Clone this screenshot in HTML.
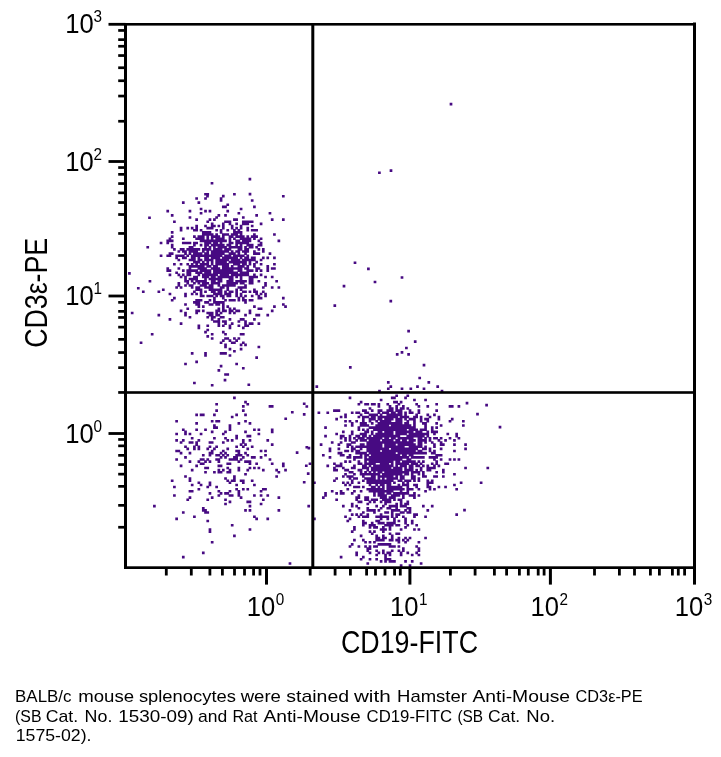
<!DOCTYPE html>
<html><head><meta charset="utf-8"><title>CD3e-PE vs CD19-FITC</title>
<style>
html,body{margin:0;padding:0;background:#fff;overflow:hidden;}
svg{display:block;}
text{font-family:"Liberation Sans",sans-serif;fill:#000;}
</style></head><body>
<svg width="721" height="757" viewBox="0 0 721 757">
<rect width="721" height="757" fill="#fff"/>
<path fill="#470a82" d="M130.82 311.73h2.7v2.6h-2.7zM139.71 341.44h2.7v2.6h-2.7zM141.93 290.51h2.7v2.6h-2.7zM146.38 245.94h2.7v2.6h-2.7zM148.60 279.89h2.7v2.6h-2.7zM150.82 332.95h2.7v2.6h-2.7zM153.04 504.85h2.7v2.6h-2.7zM157.49 313.85h2.7v2.6h-2.7zM157.49 290.51h2.7v2.6h-2.7zM159.71 254.43h2.7v2.6h-2.7zM159.71 241.69h2.7v2.6h-2.7zM161.94 288.38h2.7v2.6h-2.7zM166.38 269.28h2.7v2.6h-2.7zM166.38 267.16h2.7v2.6h-2.7zM166.38 254.43h2.7v2.6h-2.7zM166.38 241.69h2.7v2.6h-2.7zM166.38 239.57h2.7v2.6h-2.7zM166.38 209.86h2.7v2.6h-2.7zM168.60 318.09h2.7v2.6h-2.7zM168.60 292.63h2.7v2.6h-2.7zM168.60 273.53h2.7v2.6h-2.7zM168.60 269.28h2.7v2.6h-2.7zM168.60 254.43h2.7v2.6h-2.7zM168.60 252.30h2.7v2.6h-2.7zM168.60 239.57h2.7v2.6h-2.7zM168.60 237.45h2.7v2.6h-2.7zM170.83 479.39h2.7v2.6h-2.7zM170.83 298.99h2.7v2.6h-2.7zM170.83 252.30h2.7v2.6h-2.7zM170.83 245.94h2.7v2.6h-2.7zM170.83 243.82h2.7v2.6h-2.7zM170.83 239.57h2.7v2.6h-2.7zM170.83 235.33h2.7v2.6h-2.7zM170.83 231.08h2.7v2.6h-2.7zM170.83 214.10h2.7v2.6h-2.7zM173.05 494.24h2.7v2.6h-2.7zM173.05 485.75h2.7v2.6h-2.7zM173.05 296.87h2.7v2.6h-2.7zM173.05 262.92h2.7v2.6h-2.7zM173.05 248.06h2.7v2.6h-2.7zM173.05 220.47h2.7v2.6h-2.7zM175.27 517.59h2.7v2.6h-2.7zM175.27 458.16h2.7v2.6h-2.7zM175.27 449.68h2.7v2.6h-2.7zM175.27 439.06h2.7v2.6h-2.7zM175.27 432.70h2.7v2.6h-2.7zM175.27 419.96h2.7v2.6h-2.7zM175.27 286.26h2.7v2.6h-2.7zM175.27 271.41h2.7v2.6h-2.7zM175.27 256.55h2.7v2.6h-2.7zM175.27 254.43h2.7v2.6h-2.7zM177.49 449.68h2.7v2.6h-2.7zM177.49 284.14h2.7v2.6h-2.7zM177.49 282.02h2.7v2.6h-2.7zM177.49 273.53h2.7v2.6h-2.7zM177.49 267.16h2.7v2.6h-2.7zM177.49 258.67h2.7v2.6h-2.7zM177.49 254.43h2.7v2.6h-2.7zM177.49 250.18h2.7v2.6h-2.7zM179.72 464.53h2.7v2.6h-2.7zM179.72 451.80h2.7v2.6h-2.7zM179.72 441.19h2.7v2.6h-2.7zM179.72 322.34h2.7v2.6h-2.7zM179.72 309.61h2.7v2.6h-2.7zM179.72 286.26h2.7v2.6h-2.7zM179.72 275.65h2.7v2.6h-2.7zM179.72 262.92h2.7v2.6h-2.7zM179.72 254.43h2.7v2.6h-2.7zM179.72 248.06h2.7v2.6h-2.7zM179.72 228.96h2.7v2.6h-2.7zM179.72 226.84h2.7v2.6h-2.7zM181.94 555.79h2.7v2.6h-2.7zM181.94 511.22h2.7v2.6h-2.7zM181.94 439.06h2.7v2.6h-2.7zM181.94 428.45h2.7v2.6h-2.7zM181.94 273.53h2.7v2.6h-2.7zM181.94 269.28h2.7v2.6h-2.7zM181.94 256.55h2.7v2.6h-2.7zM181.94 254.43h2.7v2.6h-2.7zM181.94 250.18h2.7v2.6h-2.7zM181.94 248.06h2.7v2.6h-2.7zM181.94 241.69h2.7v2.6h-2.7zM181.94 237.45h2.7v2.6h-2.7zM181.94 201.37h2.7v2.6h-2.7zM184.16 475.14h2.7v2.6h-2.7zM184.16 456.04h2.7v2.6h-2.7zM184.16 445.43h2.7v2.6h-2.7zM184.16 432.70h2.7v2.6h-2.7zM184.16 430.57h2.7v2.6h-2.7zM184.16 362.66h2.7v2.6h-2.7zM184.16 313.85h2.7v2.6h-2.7zM184.16 311.73h2.7v2.6h-2.7zM184.16 303.24h2.7v2.6h-2.7zM184.16 294.75h2.7v2.6h-2.7zM184.16 292.63h2.7v2.6h-2.7zM184.16 284.14h2.7v2.6h-2.7zM184.16 279.89h2.7v2.6h-2.7zM184.16 277.77h2.7v2.6h-2.7zM184.16 275.65h2.7v2.6h-2.7zM184.16 256.55h2.7v2.6h-2.7zM184.16 252.30h2.7v2.6h-2.7zM184.16 250.18h2.7v2.6h-2.7zM184.16 241.69h2.7v2.6h-2.7zM186.38 498.49h2.7v2.6h-2.7zM186.38 447.55h2.7v2.6h-2.7zM186.38 307.48h2.7v2.6h-2.7zM186.38 282.02h2.7v2.6h-2.7zM186.38 279.89h2.7v2.6h-2.7zM186.38 273.53h2.7v2.6h-2.7zM186.38 271.41h2.7v2.6h-2.7zM186.38 269.28h2.7v2.6h-2.7zM186.38 262.92h2.7v2.6h-2.7zM186.38 254.43h2.7v2.6h-2.7zM186.38 248.06h2.7v2.6h-2.7zM186.38 241.69h2.7v2.6h-2.7zM186.38 226.84h2.7v2.6h-2.7zM188.61 496.37h2.7v2.6h-2.7zM188.61 490.00h2.7v2.6h-2.7zM188.61 479.39h2.7v2.6h-2.7zM188.61 477.26h2.7v2.6h-2.7zM188.61 460.29h2.7v2.6h-2.7zM188.61 451.80h2.7v2.6h-2.7zM188.61 441.19h2.7v2.6h-2.7zM188.61 432.70h2.7v2.6h-2.7zM188.61 315.97h2.7v2.6h-2.7zM188.61 284.14h2.7v2.6h-2.7zM188.61 277.77h2.7v2.6h-2.7zM188.61 273.53h2.7v2.6h-2.7zM188.61 271.41h2.7v2.6h-2.7zM188.61 269.28h2.7v2.6h-2.7zM188.61 267.16h2.7v2.6h-2.7zM188.61 265.04h2.7v2.6h-2.7zM188.61 258.67h2.7v2.6h-2.7zM188.61 252.30h2.7v2.6h-2.7zM188.61 250.18h2.7v2.6h-2.7zM188.61 248.06h2.7v2.6h-2.7zM188.61 245.94h2.7v2.6h-2.7zM188.61 241.69h2.7v2.6h-2.7zM188.61 216.23h2.7v2.6h-2.7zM188.61 209.86h2.7v2.6h-2.7zM190.83 490.00h2.7v2.6h-2.7zM190.83 483.63h2.7v2.6h-2.7zM190.83 468.78h2.7v2.6h-2.7zM190.83 441.19h2.7v2.6h-2.7zM190.83 436.94h2.7v2.6h-2.7zM190.83 352.05h2.7v2.6h-2.7zM190.83 292.63h2.7v2.6h-2.7zM190.83 286.26h2.7v2.6h-2.7zM190.83 284.14h2.7v2.6h-2.7zM190.83 279.89h2.7v2.6h-2.7zM190.83 277.77h2.7v2.6h-2.7zM190.83 269.28h2.7v2.6h-2.7zM190.83 265.04h2.7v2.6h-2.7zM190.83 262.92h2.7v2.6h-2.7zM190.83 258.67h2.7v2.6h-2.7zM190.83 256.55h2.7v2.6h-2.7zM190.83 254.43h2.7v2.6h-2.7zM190.83 250.18h2.7v2.6h-2.7zM190.83 248.06h2.7v2.6h-2.7zM190.83 245.94h2.7v2.6h-2.7zM190.83 226.84h2.7v2.6h-2.7zM193.05 515.47h2.7v2.6h-2.7zM193.05 447.55h2.7v2.6h-2.7zM193.05 445.43h2.7v2.6h-2.7zM193.05 381.76h2.7v2.6h-2.7zM193.05 301.12h2.7v2.6h-2.7zM193.05 290.51h2.7v2.6h-2.7zM193.05 282.02h2.7v2.6h-2.7zM193.05 277.77h2.7v2.6h-2.7zM193.05 275.65h2.7v2.6h-2.7zM193.05 269.28h2.7v2.6h-2.7zM193.05 265.04h2.7v2.6h-2.7zM193.05 260.79h2.7v2.6h-2.7zM193.05 258.67h2.7v2.6h-2.7zM193.05 256.55h2.7v2.6h-2.7zM193.05 254.43h2.7v2.6h-2.7zM193.05 252.30h2.7v2.6h-2.7zM193.05 250.18h2.7v2.6h-2.7zM193.05 248.06h2.7v2.6h-2.7zM193.05 243.82h2.7v2.6h-2.7zM193.05 241.69h2.7v2.6h-2.7zM193.05 235.33h2.7v2.6h-2.7zM193.05 228.96h2.7v2.6h-2.7zM195.28 464.53h2.7v2.6h-2.7zM195.28 443.31h2.7v2.6h-2.7zM195.28 441.19h2.7v2.6h-2.7zM195.28 428.45h2.7v2.6h-2.7zM195.28 422.09h2.7v2.6h-2.7zM195.28 413.60h2.7v2.6h-2.7zM195.28 360.54h2.7v2.6h-2.7zM195.28 311.73h2.7v2.6h-2.7zM195.28 309.61h2.7v2.6h-2.7zM195.28 303.24h2.7v2.6h-2.7zM195.28 301.12h2.7v2.6h-2.7zM195.28 298.99h2.7v2.6h-2.7zM195.28 292.63h2.7v2.6h-2.7zM195.28 288.38h2.7v2.6h-2.7zM195.28 286.26h2.7v2.6h-2.7zM195.28 279.89h2.7v2.6h-2.7zM195.28 277.77h2.7v2.6h-2.7zM195.28 275.65h2.7v2.6h-2.7zM195.28 271.41h2.7v2.6h-2.7zM195.28 269.28h2.7v2.6h-2.7zM195.28 265.04h2.7v2.6h-2.7zM195.28 262.92h2.7v2.6h-2.7zM195.28 260.79h2.7v2.6h-2.7zM195.28 254.43h2.7v2.6h-2.7zM195.28 252.30h2.7v2.6h-2.7zM195.28 250.18h2.7v2.6h-2.7zM195.28 248.06h2.7v2.6h-2.7zM195.28 241.69h2.7v2.6h-2.7zM195.28 237.45h2.7v2.6h-2.7zM195.28 228.96h2.7v2.6h-2.7zM195.28 226.84h2.7v2.6h-2.7zM195.28 224.72h2.7v2.6h-2.7zM195.28 218.35h2.7v2.6h-2.7zM195.28 197.13h2.7v2.6h-2.7zM197.50 487.88h2.7v2.6h-2.7zM197.50 481.51h2.7v2.6h-2.7zM197.50 460.29h2.7v2.6h-2.7zM197.50 447.55h2.7v2.6h-2.7zM197.50 445.43h2.7v2.6h-2.7zM197.50 439.06h2.7v2.6h-2.7zM197.50 326.58h2.7v2.6h-2.7zM197.50 324.46h2.7v2.6h-2.7zM197.50 309.61h2.7v2.6h-2.7zM197.50 305.36h2.7v2.6h-2.7zM197.50 303.24h2.7v2.6h-2.7zM197.50 301.12h2.7v2.6h-2.7zM197.50 298.99h2.7v2.6h-2.7zM197.50 288.38h2.7v2.6h-2.7zM197.50 286.26h2.7v2.6h-2.7zM197.50 282.02h2.7v2.6h-2.7zM197.50 279.89h2.7v2.6h-2.7zM197.50 273.53h2.7v2.6h-2.7zM197.50 271.41h2.7v2.6h-2.7zM197.50 267.16h2.7v2.6h-2.7zM197.50 265.04h2.7v2.6h-2.7zM197.50 260.79h2.7v2.6h-2.7zM197.50 258.67h2.7v2.6h-2.7zM197.50 256.55h2.7v2.6h-2.7zM197.50 254.43h2.7v2.6h-2.7zM197.50 252.30h2.7v2.6h-2.7zM197.50 248.06h2.7v2.6h-2.7zM197.50 237.45h2.7v2.6h-2.7zM197.50 235.33h2.7v2.6h-2.7zM197.50 201.37h2.7v2.6h-2.7zM199.72 483.63h2.7v2.6h-2.7zM199.72 462.41h2.7v2.6h-2.7zM199.72 458.16h2.7v2.6h-2.7zM199.72 432.70h2.7v2.6h-2.7zM199.72 413.60h2.7v2.6h-2.7zM199.72 298.99h2.7v2.6h-2.7zM199.72 294.75h2.7v2.6h-2.7zM199.72 292.63h2.7v2.6h-2.7zM199.72 290.51h2.7v2.6h-2.7zM199.72 288.38h2.7v2.6h-2.7zM199.72 284.14h2.7v2.6h-2.7zM199.72 279.89h2.7v2.6h-2.7zM199.72 271.41h2.7v2.6h-2.7zM199.72 269.28h2.7v2.6h-2.7zM199.72 267.16h2.7v2.6h-2.7zM199.72 265.04h2.7v2.6h-2.7zM199.72 262.92h2.7v2.6h-2.7zM199.72 258.67h2.7v2.6h-2.7zM199.72 254.43h2.7v2.6h-2.7zM199.72 252.30h2.7v2.6h-2.7zM199.72 243.82h2.7v2.6h-2.7zM199.72 239.57h2.7v2.6h-2.7zM199.72 237.45h2.7v2.6h-2.7zM199.72 235.33h2.7v2.6h-2.7zM199.72 228.96h2.7v2.6h-2.7zM199.72 211.98h2.7v2.6h-2.7zM199.72 207.74h2.7v2.6h-2.7zM201.94 551.54h2.7v2.6h-2.7zM201.94 509.10h2.7v2.6h-2.7zM201.94 506.98h2.7v2.6h-2.7zM201.94 462.41h2.7v2.6h-2.7zM201.94 458.16h2.7v2.6h-2.7zM201.94 453.92h2.7v2.6h-2.7zM201.94 413.60h2.7v2.6h-2.7zM201.94 309.61h2.7v2.6h-2.7zM201.94 305.36h2.7v2.6h-2.7zM201.94 294.75h2.7v2.6h-2.7zM201.94 284.14h2.7v2.6h-2.7zM201.94 282.02h2.7v2.6h-2.7zM201.94 279.89h2.7v2.6h-2.7zM201.94 275.65h2.7v2.6h-2.7zM201.94 273.53h2.7v2.6h-2.7zM201.94 269.28h2.7v2.6h-2.7zM201.94 267.16h2.7v2.6h-2.7zM201.94 265.04h2.7v2.6h-2.7zM201.94 262.92h2.7v2.6h-2.7zM201.94 260.79h2.7v2.6h-2.7zM201.94 254.43h2.7v2.6h-2.7zM201.94 250.18h2.7v2.6h-2.7zM201.94 248.06h2.7v2.6h-2.7zM201.94 239.57h2.7v2.6h-2.7zM201.94 237.45h2.7v2.6h-2.7zM201.94 235.33h2.7v2.6h-2.7zM201.94 233.20h2.7v2.6h-2.7zM201.94 231.08h2.7v2.6h-2.7zM204.17 511.22h2.7v2.6h-2.7zM204.17 509.10h2.7v2.6h-2.7zM204.17 470.90h2.7v2.6h-2.7zM204.17 466.65h2.7v2.6h-2.7zM204.17 460.29h2.7v2.6h-2.7zM204.17 428.45h2.7v2.6h-2.7zM204.17 354.17h2.7v2.6h-2.7zM204.17 352.05h2.7v2.6h-2.7zM204.17 330.83h2.7v2.6h-2.7zM204.17 301.12h2.7v2.6h-2.7zM204.17 290.51h2.7v2.6h-2.7zM204.17 286.26h2.7v2.6h-2.7zM204.17 284.14h2.7v2.6h-2.7zM204.17 282.02h2.7v2.6h-2.7zM204.17 279.89h2.7v2.6h-2.7zM204.17 277.77h2.7v2.6h-2.7zM204.17 275.65h2.7v2.6h-2.7zM204.17 273.53h2.7v2.6h-2.7zM204.17 271.41h2.7v2.6h-2.7zM204.17 269.28h2.7v2.6h-2.7zM204.17 267.16h2.7v2.6h-2.7zM204.17 262.92h2.7v2.6h-2.7zM204.17 258.67h2.7v2.6h-2.7zM204.17 256.55h2.7v2.6h-2.7zM204.17 254.43h2.7v2.6h-2.7zM204.17 252.30h2.7v2.6h-2.7zM204.17 248.06h2.7v2.6h-2.7zM204.17 245.94h2.7v2.6h-2.7zM204.17 243.82h2.7v2.6h-2.7zM204.17 241.69h2.7v2.6h-2.7zM204.17 239.57h2.7v2.6h-2.7zM204.17 233.20h2.7v2.6h-2.7zM204.17 231.08h2.7v2.6h-2.7zM204.17 224.72h2.7v2.6h-2.7zM204.17 209.86h2.7v2.6h-2.7zM204.17 197.13h2.7v2.6h-2.7zM204.17 192.88h2.7v2.6h-2.7zM206.39 519.71h2.7v2.6h-2.7zM206.39 511.22h2.7v2.6h-2.7zM206.39 498.49h2.7v2.6h-2.7zM206.39 485.75h2.7v2.6h-2.7zM206.39 466.65h2.7v2.6h-2.7zM206.39 458.16h2.7v2.6h-2.7zM206.39 447.55h2.7v2.6h-2.7zM206.39 335.07h2.7v2.6h-2.7zM206.39 328.71h2.7v2.6h-2.7zM206.39 324.46h2.7v2.6h-2.7zM206.39 315.97h2.7v2.6h-2.7zM206.39 311.73h2.7v2.6h-2.7zM206.39 301.12h2.7v2.6h-2.7zM206.39 294.75h2.7v2.6h-2.7zM206.39 286.26h2.7v2.6h-2.7zM206.39 282.02h2.7v2.6h-2.7zM206.39 275.65h2.7v2.6h-2.7zM206.39 273.53h2.7v2.6h-2.7zM206.39 271.41h2.7v2.6h-2.7zM206.39 269.28h2.7v2.6h-2.7zM206.39 265.04h2.7v2.6h-2.7zM206.39 262.92h2.7v2.6h-2.7zM206.39 260.79h2.7v2.6h-2.7zM206.39 258.67h2.7v2.6h-2.7zM206.39 256.55h2.7v2.6h-2.7zM206.39 254.43h2.7v2.6h-2.7zM206.39 252.30h2.7v2.6h-2.7zM206.39 250.18h2.7v2.6h-2.7zM206.39 248.06h2.7v2.6h-2.7zM206.39 243.82h2.7v2.6h-2.7zM206.39 241.69h2.7v2.6h-2.7zM206.39 239.57h2.7v2.6h-2.7zM206.39 237.45h2.7v2.6h-2.7zM206.39 235.33h2.7v2.6h-2.7zM206.39 233.20h2.7v2.6h-2.7zM206.39 231.08h2.7v2.6h-2.7zM206.39 226.84h2.7v2.6h-2.7zM206.39 220.47h2.7v2.6h-2.7zM206.39 192.88h2.7v2.6h-2.7zM208.61 530.32h2.7v2.6h-2.7zM208.61 528.20h2.7v2.6h-2.7zM208.61 492.12h2.7v2.6h-2.7zM208.61 483.63h2.7v2.6h-2.7zM208.61 481.51h2.7v2.6h-2.7zM208.61 460.29h2.7v2.6h-2.7zM208.61 453.92h2.7v2.6h-2.7zM208.61 451.80h2.7v2.6h-2.7zM208.61 445.43h2.7v2.6h-2.7zM208.61 441.19h2.7v2.6h-2.7zM208.61 313.85h2.7v2.6h-2.7zM208.61 311.73h2.7v2.6h-2.7zM208.61 303.24h2.7v2.6h-2.7zM208.61 298.99h2.7v2.6h-2.7zM208.61 294.75h2.7v2.6h-2.7zM208.61 288.38h2.7v2.6h-2.7zM208.61 286.26h2.7v2.6h-2.7zM208.61 284.14h2.7v2.6h-2.7zM208.61 277.77h2.7v2.6h-2.7zM208.61 273.53h2.7v2.6h-2.7zM208.61 271.41h2.7v2.6h-2.7zM208.61 269.28h2.7v2.6h-2.7zM208.61 265.04h2.7v2.6h-2.7zM208.61 258.67h2.7v2.6h-2.7zM208.61 254.43h2.7v2.6h-2.7zM208.61 248.06h2.7v2.6h-2.7zM208.61 245.94h2.7v2.6h-2.7zM208.61 241.69h2.7v2.6h-2.7zM208.61 239.57h2.7v2.6h-2.7zM208.61 233.20h2.7v2.6h-2.7zM208.61 231.08h2.7v2.6h-2.7zM208.61 226.84h2.7v2.6h-2.7zM208.61 218.35h2.7v2.6h-2.7zM208.61 209.86h2.7v2.6h-2.7zM210.83 540.93h2.7v2.6h-2.7zM210.83 496.37h2.7v2.6h-2.7zM210.83 451.80h2.7v2.6h-2.7zM210.83 449.68h2.7v2.6h-2.7zM210.83 441.19h2.7v2.6h-2.7zM210.83 430.57h2.7v2.6h-2.7zM210.83 419.96h2.7v2.6h-2.7zM210.83 383.89h2.7v2.6h-2.7zM210.83 337.20h2.7v2.6h-2.7zM210.83 332.95h2.7v2.6h-2.7zM210.83 318.09h2.7v2.6h-2.7zM210.83 315.97h2.7v2.6h-2.7zM210.83 313.85h2.7v2.6h-2.7zM210.83 311.73h2.7v2.6h-2.7zM210.83 303.24h2.7v2.6h-2.7zM210.83 294.75h2.7v2.6h-2.7zM210.83 290.51h2.7v2.6h-2.7zM210.83 288.38h2.7v2.6h-2.7zM210.83 286.26h2.7v2.6h-2.7zM210.83 284.14h2.7v2.6h-2.7zM210.83 282.02h2.7v2.6h-2.7zM210.83 279.89h2.7v2.6h-2.7zM210.83 277.77h2.7v2.6h-2.7zM210.83 275.65h2.7v2.6h-2.7zM210.83 273.53h2.7v2.6h-2.7zM210.83 267.16h2.7v2.6h-2.7zM210.83 262.92h2.7v2.6h-2.7zM210.83 260.79h2.7v2.6h-2.7zM210.83 258.67h2.7v2.6h-2.7zM210.83 256.55h2.7v2.6h-2.7zM210.83 254.43h2.7v2.6h-2.7zM210.83 252.30h2.7v2.6h-2.7zM210.83 250.18h2.7v2.6h-2.7zM210.83 243.82h2.7v2.6h-2.7zM210.83 239.57h2.7v2.6h-2.7zM210.83 237.45h2.7v2.6h-2.7zM210.83 235.33h2.7v2.6h-2.7zM210.83 233.20h2.7v2.6h-2.7zM210.83 226.84h2.7v2.6h-2.7zM210.83 224.72h2.7v2.6h-2.7zM210.83 222.59h2.7v2.6h-2.7zM213.06 470.90h2.7v2.6h-2.7zM213.06 447.55h2.7v2.6h-2.7zM213.06 436.94h2.7v2.6h-2.7zM213.06 426.33h2.7v2.6h-2.7zM213.06 424.21h2.7v2.6h-2.7zM213.06 413.60h2.7v2.6h-2.7zM213.06 320.22h2.7v2.6h-2.7zM213.06 315.97h2.7v2.6h-2.7zM213.06 301.12h2.7v2.6h-2.7zM213.06 298.99h2.7v2.6h-2.7zM213.06 296.87h2.7v2.6h-2.7zM213.06 292.63h2.7v2.6h-2.7zM213.06 290.51h2.7v2.6h-2.7zM213.06 288.38h2.7v2.6h-2.7zM213.06 282.02h2.7v2.6h-2.7zM213.06 279.89h2.7v2.6h-2.7zM213.06 277.77h2.7v2.6h-2.7zM213.06 275.65h2.7v2.6h-2.7zM213.06 273.53h2.7v2.6h-2.7zM213.06 271.41h2.7v2.6h-2.7zM213.06 269.28h2.7v2.6h-2.7zM213.06 267.16h2.7v2.6h-2.7zM213.06 265.04h2.7v2.6h-2.7zM213.06 256.55h2.7v2.6h-2.7zM213.06 254.43h2.7v2.6h-2.7zM213.06 252.30h2.7v2.6h-2.7zM213.06 250.18h2.7v2.6h-2.7zM213.06 248.06h2.7v2.6h-2.7zM213.06 245.94h2.7v2.6h-2.7zM213.06 243.82h2.7v2.6h-2.7zM213.06 241.69h2.7v2.6h-2.7zM213.06 239.57h2.7v2.6h-2.7zM213.06 235.33h2.7v2.6h-2.7zM213.06 224.72h2.7v2.6h-2.7zM213.06 218.35h2.7v2.6h-2.7zM215.28 485.75h2.7v2.6h-2.7zM215.28 458.16h2.7v2.6h-2.7zM215.28 453.92h2.7v2.6h-2.7zM215.28 445.43h2.7v2.6h-2.7zM215.28 426.33h2.7v2.6h-2.7zM215.28 419.96h2.7v2.6h-2.7zM215.28 409.35h2.7v2.6h-2.7zM215.28 402.99h2.7v2.6h-2.7zM215.28 320.22h2.7v2.6h-2.7zM215.28 313.85h2.7v2.6h-2.7zM215.28 311.73h2.7v2.6h-2.7zM215.28 309.61h2.7v2.6h-2.7zM215.28 303.24h2.7v2.6h-2.7zM215.28 301.12h2.7v2.6h-2.7zM215.28 294.75h2.7v2.6h-2.7zM215.28 292.63h2.7v2.6h-2.7zM215.28 288.38h2.7v2.6h-2.7zM215.28 282.02h2.7v2.6h-2.7zM215.28 277.77h2.7v2.6h-2.7zM215.28 273.53h2.7v2.6h-2.7zM215.28 271.41h2.7v2.6h-2.7zM215.28 269.28h2.7v2.6h-2.7zM215.28 267.16h2.7v2.6h-2.7zM215.28 265.04h2.7v2.6h-2.7zM215.28 262.92h2.7v2.6h-2.7zM215.28 260.79h2.7v2.6h-2.7zM215.28 258.67h2.7v2.6h-2.7zM215.28 256.55h2.7v2.6h-2.7zM215.28 254.43h2.7v2.6h-2.7zM215.28 252.30h2.7v2.6h-2.7zM215.28 250.18h2.7v2.6h-2.7zM215.28 248.06h2.7v2.6h-2.7zM215.28 243.82h2.7v2.6h-2.7zM215.28 241.69h2.7v2.6h-2.7zM215.28 239.57h2.7v2.6h-2.7zM215.28 237.45h2.7v2.6h-2.7zM215.28 235.33h2.7v2.6h-2.7zM215.28 233.20h2.7v2.6h-2.7zM215.28 228.96h2.7v2.6h-2.7zM215.28 216.23h2.7v2.6h-2.7zM217.50 494.24h2.7v2.6h-2.7zM217.50 490.00h2.7v2.6h-2.7zM217.50 470.90h2.7v2.6h-2.7zM217.50 468.78h2.7v2.6h-2.7zM217.50 464.53h2.7v2.6h-2.7zM217.50 460.29h2.7v2.6h-2.7zM217.50 458.16h2.7v2.6h-2.7zM217.50 453.92h2.7v2.6h-2.7zM217.50 419.96h2.7v2.6h-2.7zM217.50 369.03h2.7v2.6h-2.7zM217.50 324.46h2.7v2.6h-2.7zM217.50 322.34h2.7v2.6h-2.7zM217.50 320.22h2.7v2.6h-2.7zM217.50 318.09h2.7v2.6h-2.7zM217.50 313.85h2.7v2.6h-2.7zM217.50 309.61h2.7v2.6h-2.7zM217.50 307.48h2.7v2.6h-2.7zM217.50 303.24h2.7v2.6h-2.7zM217.50 301.12h2.7v2.6h-2.7zM217.50 292.63h2.7v2.6h-2.7zM217.50 290.51h2.7v2.6h-2.7zM217.50 288.38h2.7v2.6h-2.7zM217.50 284.14h2.7v2.6h-2.7zM217.50 282.02h2.7v2.6h-2.7zM217.50 279.89h2.7v2.6h-2.7zM217.50 277.77h2.7v2.6h-2.7zM217.50 275.65h2.7v2.6h-2.7zM217.50 271.41h2.7v2.6h-2.7zM217.50 269.28h2.7v2.6h-2.7zM217.50 267.16h2.7v2.6h-2.7zM217.50 262.92h2.7v2.6h-2.7zM217.50 260.79h2.7v2.6h-2.7zM217.50 258.67h2.7v2.6h-2.7zM217.50 256.55h2.7v2.6h-2.7zM217.50 254.43h2.7v2.6h-2.7zM217.50 252.30h2.7v2.6h-2.7zM217.50 250.18h2.7v2.6h-2.7zM217.50 248.06h2.7v2.6h-2.7zM217.50 245.94h2.7v2.6h-2.7zM217.50 243.82h2.7v2.6h-2.7zM217.50 239.57h2.7v2.6h-2.7zM217.50 237.45h2.7v2.6h-2.7zM217.50 235.33h2.7v2.6h-2.7zM217.50 224.72h2.7v2.6h-2.7zM217.50 214.10h2.7v2.6h-2.7zM219.72 492.12h2.7v2.6h-2.7zM219.72 470.90h2.7v2.6h-2.7zM219.72 464.53h2.7v2.6h-2.7zM219.72 456.04h2.7v2.6h-2.7zM219.72 451.80h2.7v2.6h-2.7zM219.72 364.78h2.7v2.6h-2.7zM219.72 352.05h2.7v2.6h-2.7zM219.72 341.44h2.7v2.6h-2.7zM219.72 315.97h2.7v2.6h-2.7zM219.72 311.73h2.7v2.6h-2.7zM219.72 301.12h2.7v2.6h-2.7zM219.72 294.75h2.7v2.6h-2.7zM219.72 292.63h2.7v2.6h-2.7zM219.72 290.51h2.7v2.6h-2.7zM219.72 288.38h2.7v2.6h-2.7zM219.72 286.26h2.7v2.6h-2.7zM219.72 279.89h2.7v2.6h-2.7zM219.72 277.77h2.7v2.6h-2.7zM219.72 275.65h2.7v2.6h-2.7zM219.72 273.53h2.7v2.6h-2.7zM219.72 271.41h2.7v2.6h-2.7zM219.72 269.28h2.7v2.6h-2.7zM219.72 262.92h2.7v2.6h-2.7zM219.72 260.79h2.7v2.6h-2.7zM219.72 258.67h2.7v2.6h-2.7zM219.72 254.43h2.7v2.6h-2.7zM219.72 252.30h2.7v2.6h-2.7zM219.72 250.18h2.7v2.6h-2.7zM219.72 248.06h2.7v2.6h-2.7zM219.72 245.94h2.7v2.6h-2.7zM219.72 243.82h2.7v2.6h-2.7zM219.72 241.69h2.7v2.6h-2.7zM219.72 239.57h2.7v2.6h-2.7zM219.72 237.45h2.7v2.6h-2.7zM219.72 231.08h2.7v2.6h-2.7zM219.72 228.96h2.7v2.6h-2.7zM219.72 199.25h2.7v2.6h-2.7zM219.72 197.13h2.7v2.6h-2.7zM221.95 468.78h2.7v2.6h-2.7zM221.95 453.92h2.7v2.6h-2.7zM221.95 449.68h2.7v2.6h-2.7zM221.95 441.19h2.7v2.6h-2.7zM221.95 432.70h2.7v2.6h-2.7zM221.95 352.05h2.7v2.6h-2.7zM221.95 339.32h2.7v2.6h-2.7zM221.95 330.83h2.7v2.6h-2.7zM221.95 324.46h2.7v2.6h-2.7zM221.95 320.22h2.7v2.6h-2.7zM221.95 315.97h2.7v2.6h-2.7zM221.95 309.61h2.7v2.6h-2.7zM221.95 307.48h2.7v2.6h-2.7zM221.95 305.36h2.7v2.6h-2.7zM221.95 303.24h2.7v2.6h-2.7zM221.95 301.12h2.7v2.6h-2.7zM221.95 296.87h2.7v2.6h-2.7zM221.95 294.75h2.7v2.6h-2.7zM221.95 286.26h2.7v2.6h-2.7zM221.95 284.14h2.7v2.6h-2.7zM221.95 275.65h2.7v2.6h-2.7zM221.95 273.53h2.7v2.6h-2.7zM221.95 271.41h2.7v2.6h-2.7zM221.95 269.28h2.7v2.6h-2.7zM221.95 267.16h2.7v2.6h-2.7zM221.95 265.04h2.7v2.6h-2.7zM221.95 262.92h2.7v2.6h-2.7zM221.95 260.79h2.7v2.6h-2.7zM221.95 258.67h2.7v2.6h-2.7zM221.95 256.55h2.7v2.6h-2.7zM221.95 252.30h2.7v2.6h-2.7zM221.95 250.18h2.7v2.6h-2.7zM221.95 245.94h2.7v2.6h-2.7zM221.95 243.82h2.7v2.6h-2.7zM221.95 239.57h2.7v2.6h-2.7zM221.95 237.45h2.7v2.6h-2.7zM221.95 235.33h2.7v2.6h-2.7zM221.95 233.20h2.7v2.6h-2.7zM221.95 226.84h2.7v2.6h-2.7zM221.95 224.72h2.7v2.6h-2.7zM221.95 222.59h2.7v2.6h-2.7zM221.95 205.61h2.7v2.6h-2.7zM224.17 502.73h2.7v2.6h-2.7zM224.17 498.49h2.7v2.6h-2.7zM224.17 492.12h2.7v2.6h-2.7zM224.17 477.26h2.7v2.6h-2.7zM224.17 456.04h2.7v2.6h-2.7zM224.17 451.80h2.7v2.6h-2.7zM224.17 436.94h2.7v2.6h-2.7zM224.17 430.57h2.7v2.6h-2.7zM224.17 373.27h2.7v2.6h-2.7zM224.17 352.05h2.7v2.6h-2.7zM224.17 345.68h2.7v2.6h-2.7zM224.17 343.56h2.7v2.6h-2.7zM224.17 337.20h2.7v2.6h-2.7zM224.17 332.95h2.7v2.6h-2.7zM224.17 322.34h2.7v2.6h-2.7zM224.17 320.22h2.7v2.6h-2.7zM224.17 309.61h2.7v2.6h-2.7zM224.17 298.99h2.7v2.6h-2.7zM224.17 292.63h2.7v2.6h-2.7zM224.17 290.51h2.7v2.6h-2.7zM224.17 284.14h2.7v2.6h-2.7zM224.17 275.65h2.7v2.6h-2.7zM224.17 273.53h2.7v2.6h-2.7zM224.17 271.41h2.7v2.6h-2.7zM224.17 269.28h2.7v2.6h-2.7zM224.17 267.16h2.7v2.6h-2.7zM224.17 265.04h2.7v2.6h-2.7zM224.17 262.92h2.7v2.6h-2.7zM224.17 260.79h2.7v2.6h-2.7zM224.17 258.67h2.7v2.6h-2.7zM224.17 256.55h2.7v2.6h-2.7zM224.17 254.43h2.7v2.6h-2.7zM224.17 250.18h2.7v2.6h-2.7zM224.17 248.06h2.7v2.6h-2.7zM224.17 245.94h2.7v2.6h-2.7zM224.17 239.57h2.7v2.6h-2.7zM224.17 233.20h2.7v2.6h-2.7zM224.17 220.47h2.7v2.6h-2.7zM224.17 214.10h2.7v2.6h-2.7zM224.17 205.61h2.7v2.6h-2.7zM226.39 492.12h2.7v2.6h-2.7zM226.39 479.39h2.7v2.6h-2.7zM226.39 470.90h2.7v2.6h-2.7zM226.39 466.65h2.7v2.6h-2.7zM226.39 462.41h2.7v2.6h-2.7zM226.39 453.92h2.7v2.6h-2.7zM226.39 447.55h2.7v2.6h-2.7zM226.39 439.06h2.7v2.6h-2.7zM226.39 373.27h2.7v2.6h-2.7zM226.39 337.20h2.7v2.6h-2.7zM226.39 305.36h2.7v2.6h-2.7zM226.39 294.75h2.7v2.6h-2.7zM226.39 292.63h2.7v2.6h-2.7zM226.39 288.38h2.7v2.6h-2.7zM226.39 286.26h2.7v2.6h-2.7zM226.39 284.14h2.7v2.6h-2.7zM226.39 282.02h2.7v2.6h-2.7zM226.39 279.89h2.7v2.6h-2.7zM226.39 275.65h2.7v2.6h-2.7zM226.39 273.53h2.7v2.6h-2.7zM226.39 271.41h2.7v2.6h-2.7zM226.39 269.28h2.7v2.6h-2.7zM226.39 267.16h2.7v2.6h-2.7zM226.39 265.04h2.7v2.6h-2.7zM226.39 262.92h2.7v2.6h-2.7zM226.39 258.67h2.7v2.6h-2.7zM226.39 256.55h2.7v2.6h-2.7zM226.39 254.43h2.7v2.6h-2.7zM226.39 250.18h2.7v2.6h-2.7zM226.39 248.06h2.7v2.6h-2.7zM226.39 243.82h2.7v2.6h-2.7zM226.39 233.20h2.7v2.6h-2.7zM226.39 228.96h2.7v2.6h-2.7zM226.39 220.47h2.7v2.6h-2.7zM226.39 209.86h2.7v2.6h-2.7zM226.39 203.49h2.7v2.6h-2.7zM228.61 500.61h2.7v2.6h-2.7zM228.61 494.24h2.7v2.6h-2.7zM228.61 490.00h2.7v2.6h-2.7zM228.61 481.51h2.7v2.6h-2.7zM228.61 470.90h2.7v2.6h-2.7zM228.61 468.78h2.7v2.6h-2.7zM228.61 462.41h2.7v2.6h-2.7zM228.61 458.16h2.7v2.6h-2.7zM228.61 428.45h2.7v2.6h-2.7zM228.61 426.33h2.7v2.6h-2.7zM228.61 424.21h2.7v2.6h-2.7zM228.61 354.17h2.7v2.6h-2.7zM228.61 347.81h2.7v2.6h-2.7zM228.61 339.32h2.7v2.6h-2.7zM228.61 326.58h2.7v2.6h-2.7zM228.61 324.46h2.7v2.6h-2.7zM228.61 318.09h2.7v2.6h-2.7zM228.61 311.73h2.7v2.6h-2.7zM228.61 309.61h2.7v2.6h-2.7zM228.61 307.48h2.7v2.6h-2.7zM228.61 298.99h2.7v2.6h-2.7zM228.61 294.75h2.7v2.6h-2.7zM228.61 292.63h2.7v2.6h-2.7zM228.61 290.51h2.7v2.6h-2.7zM228.61 284.14h2.7v2.6h-2.7zM228.61 282.02h2.7v2.6h-2.7zM228.61 279.89h2.7v2.6h-2.7zM228.61 277.77h2.7v2.6h-2.7zM228.61 275.65h2.7v2.6h-2.7zM228.61 271.41h2.7v2.6h-2.7zM228.61 269.28h2.7v2.6h-2.7zM228.61 267.16h2.7v2.6h-2.7zM228.61 260.79h2.7v2.6h-2.7zM228.61 256.55h2.7v2.6h-2.7zM228.61 254.43h2.7v2.6h-2.7zM228.61 252.30h2.7v2.6h-2.7zM228.61 248.06h2.7v2.6h-2.7zM228.61 245.94h2.7v2.6h-2.7zM228.61 243.82h2.7v2.6h-2.7zM228.61 241.69h2.7v2.6h-2.7zM228.61 239.57h2.7v2.6h-2.7zM228.61 237.45h2.7v2.6h-2.7zM228.61 235.33h2.7v2.6h-2.7zM228.61 222.59h2.7v2.6h-2.7zM228.61 220.47h2.7v2.6h-2.7zM230.84 523.95h2.7v2.6h-2.7zM230.84 494.24h2.7v2.6h-2.7zM230.84 479.39h2.7v2.6h-2.7zM230.84 458.16h2.7v2.6h-2.7zM230.84 439.06h2.7v2.6h-2.7zM230.84 415.72h2.7v2.6h-2.7zM230.84 341.44h2.7v2.6h-2.7zM230.84 322.34h2.7v2.6h-2.7zM230.84 309.61h2.7v2.6h-2.7zM230.84 298.99h2.7v2.6h-2.7zM230.84 290.51h2.7v2.6h-2.7zM230.84 284.14h2.7v2.6h-2.7zM230.84 282.02h2.7v2.6h-2.7zM230.84 279.89h2.7v2.6h-2.7zM230.84 277.77h2.7v2.6h-2.7zM230.84 275.65h2.7v2.6h-2.7zM230.84 273.53h2.7v2.6h-2.7zM230.84 271.41h2.7v2.6h-2.7zM230.84 269.28h2.7v2.6h-2.7zM230.84 267.16h2.7v2.6h-2.7zM230.84 265.04h2.7v2.6h-2.7zM230.84 260.79h2.7v2.6h-2.7zM230.84 258.67h2.7v2.6h-2.7zM230.84 256.55h2.7v2.6h-2.7zM230.84 252.30h2.7v2.6h-2.7zM230.84 250.18h2.7v2.6h-2.7zM230.84 245.94h2.7v2.6h-2.7zM230.84 241.69h2.7v2.6h-2.7zM230.84 235.33h2.7v2.6h-2.7zM230.84 233.20h2.7v2.6h-2.7zM230.84 226.84h2.7v2.6h-2.7zM230.84 224.72h2.7v2.6h-2.7zM233.06 534.57h2.7v2.6h-2.7zM233.06 479.39h2.7v2.6h-2.7zM233.06 477.26h2.7v2.6h-2.7zM233.06 475.14h2.7v2.6h-2.7zM233.06 458.16h2.7v2.6h-2.7zM233.06 456.04h2.7v2.6h-2.7zM233.06 396.62h2.7v2.6h-2.7zM233.06 349.93h2.7v2.6h-2.7zM233.06 341.44h2.7v2.6h-2.7zM233.06 337.20h2.7v2.6h-2.7zM233.06 311.73h2.7v2.6h-2.7zM233.06 307.48h2.7v2.6h-2.7zM233.06 298.99h2.7v2.6h-2.7zM233.06 284.14h2.7v2.6h-2.7zM233.06 282.02h2.7v2.6h-2.7zM233.06 273.53h2.7v2.6h-2.7zM233.06 271.41h2.7v2.6h-2.7zM233.06 267.16h2.7v2.6h-2.7zM233.06 262.92h2.7v2.6h-2.7zM233.06 260.79h2.7v2.6h-2.7zM233.06 258.67h2.7v2.6h-2.7zM233.06 256.55h2.7v2.6h-2.7zM233.06 254.43h2.7v2.6h-2.7zM233.06 252.30h2.7v2.6h-2.7zM233.06 245.94h2.7v2.6h-2.7zM233.06 237.45h2.7v2.6h-2.7zM233.06 233.20h2.7v2.6h-2.7zM233.06 231.08h2.7v2.6h-2.7zM233.06 228.96h2.7v2.6h-2.7zM233.06 218.35h2.7v2.6h-2.7zM233.06 192.88h2.7v2.6h-2.7zM235.28 487.88h2.7v2.6h-2.7zM235.28 483.63h2.7v2.6h-2.7zM235.28 458.16h2.7v2.6h-2.7zM235.28 456.04h2.7v2.6h-2.7zM235.28 453.92h2.7v2.6h-2.7zM235.28 449.68h2.7v2.6h-2.7zM235.28 445.43h2.7v2.6h-2.7zM235.28 436.94h2.7v2.6h-2.7zM235.28 434.82h2.7v2.6h-2.7zM235.28 413.60h2.7v2.6h-2.7zM235.28 362.66h2.7v2.6h-2.7zM235.28 339.32h2.7v2.6h-2.7zM235.28 309.61h2.7v2.6h-2.7zM235.28 294.75h2.7v2.6h-2.7zM235.28 292.63h2.7v2.6h-2.7zM235.28 290.51h2.7v2.6h-2.7zM235.28 288.38h2.7v2.6h-2.7zM235.28 282.02h2.7v2.6h-2.7zM235.28 279.89h2.7v2.6h-2.7zM235.28 275.65h2.7v2.6h-2.7zM235.28 273.53h2.7v2.6h-2.7zM235.28 271.41h2.7v2.6h-2.7zM235.28 267.16h2.7v2.6h-2.7zM235.28 262.92h2.7v2.6h-2.7zM235.28 260.79h2.7v2.6h-2.7zM235.28 258.67h2.7v2.6h-2.7zM235.28 256.55h2.7v2.6h-2.7zM235.28 254.43h2.7v2.6h-2.7zM235.28 250.18h2.7v2.6h-2.7zM235.28 245.94h2.7v2.6h-2.7zM235.28 243.82h2.7v2.6h-2.7zM235.28 241.69h2.7v2.6h-2.7zM235.28 239.57h2.7v2.6h-2.7zM235.28 235.33h2.7v2.6h-2.7zM235.28 233.20h2.7v2.6h-2.7zM235.28 231.08h2.7v2.6h-2.7zM235.28 226.84h2.7v2.6h-2.7zM235.28 222.59h2.7v2.6h-2.7zM235.28 218.35h2.7v2.6h-2.7zM237.51 494.24h2.7v2.6h-2.7zM237.51 492.12h2.7v2.6h-2.7zM237.51 490.00h2.7v2.6h-2.7zM237.51 468.78h2.7v2.6h-2.7zM237.51 466.65h2.7v2.6h-2.7zM237.51 460.29h2.7v2.6h-2.7zM237.51 453.92h2.7v2.6h-2.7zM237.51 451.80h2.7v2.6h-2.7zM237.51 449.68h2.7v2.6h-2.7zM237.51 422.09h2.7v2.6h-2.7zM237.51 337.20h2.7v2.6h-2.7zM237.51 324.46h2.7v2.6h-2.7zM237.51 320.22h2.7v2.6h-2.7zM237.51 309.61h2.7v2.6h-2.7zM237.51 298.99h2.7v2.6h-2.7zM237.51 296.87h2.7v2.6h-2.7zM237.51 286.26h2.7v2.6h-2.7zM237.51 279.89h2.7v2.6h-2.7zM237.51 273.53h2.7v2.6h-2.7zM237.51 269.28h2.7v2.6h-2.7zM237.51 267.16h2.7v2.6h-2.7zM237.51 265.04h2.7v2.6h-2.7zM237.51 262.92h2.7v2.6h-2.7zM237.51 260.79h2.7v2.6h-2.7zM237.51 258.67h2.7v2.6h-2.7zM237.51 254.43h2.7v2.6h-2.7zM237.51 252.30h2.7v2.6h-2.7zM237.51 250.18h2.7v2.6h-2.7zM237.51 248.06h2.7v2.6h-2.7zM237.51 245.94h2.7v2.6h-2.7zM237.51 241.69h2.7v2.6h-2.7zM237.51 239.57h2.7v2.6h-2.7zM237.51 235.33h2.7v2.6h-2.7zM237.51 231.08h2.7v2.6h-2.7zM237.51 228.96h2.7v2.6h-2.7zM237.51 211.98h2.7v2.6h-2.7zM239.73 496.37h2.7v2.6h-2.7zM239.73 479.39h2.7v2.6h-2.7zM239.73 458.16h2.7v2.6h-2.7zM239.73 453.92h2.7v2.6h-2.7zM239.73 443.31h2.7v2.6h-2.7zM239.73 347.81h2.7v2.6h-2.7zM239.73 343.56h2.7v2.6h-2.7zM239.73 332.95h2.7v2.6h-2.7zM239.73 318.09h2.7v2.6h-2.7zM239.73 294.75h2.7v2.6h-2.7zM239.73 292.63h2.7v2.6h-2.7zM239.73 288.38h2.7v2.6h-2.7zM239.73 286.26h2.7v2.6h-2.7zM239.73 282.02h2.7v2.6h-2.7zM239.73 279.89h2.7v2.6h-2.7zM239.73 277.77h2.7v2.6h-2.7zM239.73 275.65h2.7v2.6h-2.7zM239.73 273.53h2.7v2.6h-2.7zM239.73 271.41h2.7v2.6h-2.7zM239.73 269.28h2.7v2.6h-2.7zM239.73 267.16h2.7v2.6h-2.7zM239.73 265.04h2.7v2.6h-2.7zM239.73 260.79h2.7v2.6h-2.7zM239.73 256.55h2.7v2.6h-2.7zM239.73 254.43h2.7v2.6h-2.7zM239.73 248.06h2.7v2.6h-2.7zM239.73 245.94h2.7v2.6h-2.7zM239.73 243.82h2.7v2.6h-2.7zM239.73 241.69h2.7v2.6h-2.7zM239.73 237.45h2.7v2.6h-2.7zM239.73 235.33h2.7v2.6h-2.7zM239.73 233.20h2.7v2.6h-2.7zM239.73 231.08h2.7v2.6h-2.7zM239.73 226.84h2.7v2.6h-2.7zM239.73 224.72h2.7v2.6h-2.7zM239.73 207.74h2.7v2.6h-2.7zM241.95 487.88h2.7v2.6h-2.7zM241.95 481.51h2.7v2.6h-2.7zM241.95 479.39h2.7v2.6h-2.7zM241.95 456.04h2.7v2.6h-2.7zM241.95 445.43h2.7v2.6h-2.7zM241.95 441.19h2.7v2.6h-2.7zM241.95 439.06h2.7v2.6h-2.7zM241.95 409.35h2.7v2.6h-2.7zM241.95 405.11h2.7v2.6h-2.7zM241.95 366.91h2.7v2.6h-2.7zM241.95 341.44h2.7v2.6h-2.7zM241.95 332.95h2.7v2.6h-2.7zM241.95 326.58h2.7v2.6h-2.7zM241.95 318.09h2.7v2.6h-2.7zM241.95 298.99h2.7v2.6h-2.7zM241.95 296.87h2.7v2.6h-2.7zM241.95 290.51h2.7v2.6h-2.7zM241.95 286.26h2.7v2.6h-2.7zM241.95 282.02h2.7v2.6h-2.7zM241.95 279.89h2.7v2.6h-2.7zM241.95 273.53h2.7v2.6h-2.7zM241.95 271.41h2.7v2.6h-2.7zM241.95 265.04h2.7v2.6h-2.7zM241.95 262.92h2.7v2.6h-2.7zM241.95 260.79h2.7v2.6h-2.7zM241.95 258.67h2.7v2.6h-2.7zM241.95 254.43h2.7v2.6h-2.7zM241.95 250.18h2.7v2.6h-2.7zM241.95 241.69h2.7v2.6h-2.7zM241.95 239.57h2.7v2.6h-2.7zM241.95 237.45h2.7v2.6h-2.7zM241.95 235.33h2.7v2.6h-2.7zM241.95 222.59h2.7v2.6h-2.7zM241.95 220.47h2.7v2.6h-2.7zM241.95 216.23h2.7v2.6h-2.7zM244.17 509.10h2.7v2.6h-2.7zM244.17 473.02h2.7v2.6h-2.7zM244.17 460.29h2.7v2.6h-2.7zM244.17 451.80h2.7v2.6h-2.7zM244.17 443.31h2.7v2.6h-2.7zM244.17 430.57h2.7v2.6h-2.7zM244.17 419.96h2.7v2.6h-2.7zM244.17 413.60h2.7v2.6h-2.7zM244.17 400.86h2.7v2.6h-2.7zM244.17 343.56h2.7v2.6h-2.7zM244.17 324.46h2.7v2.6h-2.7zM244.17 322.34h2.7v2.6h-2.7zM244.17 320.22h2.7v2.6h-2.7zM244.17 313.85h2.7v2.6h-2.7zM244.17 301.12h2.7v2.6h-2.7zM244.17 298.99h2.7v2.6h-2.7zM244.17 294.75h2.7v2.6h-2.7zM244.17 290.51h2.7v2.6h-2.7zM244.17 286.26h2.7v2.6h-2.7zM244.17 284.14h2.7v2.6h-2.7zM244.17 279.89h2.7v2.6h-2.7zM244.17 273.53h2.7v2.6h-2.7zM244.17 271.41h2.7v2.6h-2.7zM244.17 267.16h2.7v2.6h-2.7zM244.17 262.92h2.7v2.6h-2.7zM244.17 260.79h2.7v2.6h-2.7zM244.17 258.67h2.7v2.6h-2.7zM244.17 256.55h2.7v2.6h-2.7zM244.17 252.30h2.7v2.6h-2.7zM244.17 250.18h2.7v2.6h-2.7zM244.17 248.06h2.7v2.6h-2.7zM244.17 245.94h2.7v2.6h-2.7zM244.17 241.69h2.7v2.6h-2.7zM244.17 239.57h2.7v2.6h-2.7zM244.17 237.45h2.7v2.6h-2.7zM244.17 222.59h2.7v2.6h-2.7zM244.17 220.47h2.7v2.6h-2.7zM246.40 500.61h2.7v2.6h-2.7zM246.40 487.88h2.7v2.6h-2.7zM246.40 468.78h2.7v2.6h-2.7zM246.40 460.29h2.7v2.6h-2.7zM246.40 453.92h2.7v2.6h-2.7zM246.40 447.55h2.7v2.6h-2.7zM246.40 434.82h2.7v2.6h-2.7zM246.40 402.99h2.7v2.6h-2.7zM246.40 324.46h2.7v2.6h-2.7zM246.40 273.53h2.7v2.6h-2.7zM246.40 271.41h2.7v2.6h-2.7zM246.40 269.28h2.7v2.6h-2.7zM246.40 267.16h2.7v2.6h-2.7zM246.40 265.04h2.7v2.6h-2.7zM246.40 258.67h2.7v2.6h-2.7zM246.40 256.55h2.7v2.6h-2.7zM246.40 254.43h2.7v2.6h-2.7zM246.40 250.18h2.7v2.6h-2.7zM246.40 248.06h2.7v2.6h-2.7zM246.40 243.82h2.7v2.6h-2.7zM246.40 241.69h2.7v2.6h-2.7zM246.40 239.57h2.7v2.6h-2.7zM246.40 237.45h2.7v2.6h-2.7zM246.40 235.33h2.7v2.6h-2.7zM246.40 228.96h2.7v2.6h-2.7zM246.40 226.84h2.7v2.6h-2.7zM246.40 222.59h2.7v2.6h-2.7zM246.40 220.47h2.7v2.6h-2.7zM248.62 528.20h2.7v2.6h-2.7zM248.62 509.10h2.7v2.6h-2.7zM248.62 504.85h2.7v2.6h-2.7zM248.62 500.61h2.7v2.6h-2.7zM248.62 466.65h2.7v2.6h-2.7zM248.62 462.41h2.7v2.6h-2.7zM248.62 460.29h2.7v2.6h-2.7zM248.62 439.06h2.7v2.6h-2.7zM248.62 434.82h2.7v2.6h-2.7zM248.62 422.09h2.7v2.6h-2.7zM248.62 322.34h2.7v2.6h-2.7zM248.62 311.73h2.7v2.6h-2.7zM248.62 309.61h2.7v2.6h-2.7zM248.62 298.99h2.7v2.6h-2.7zM248.62 290.51h2.7v2.6h-2.7zM248.62 282.02h2.7v2.6h-2.7zM248.62 279.89h2.7v2.6h-2.7zM248.62 277.77h2.7v2.6h-2.7zM248.62 275.65h2.7v2.6h-2.7zM248.62 269.28h2.7v2.6h-2.7zM248.62 262.92h2.7v2.6h-2.7zM248.62 260.79h2.7v2.6h-2.7zM248.62 258.67h2.7v2.6h-2.7zM248.62 245.94h2.7v2.6h-2.7zM248.62 243.82h2.7v2.6h-2.7zM248.62 239.57h2.7v2.6h-2.7zM248.62 237.45h2.7v2.6h-2.7zM248.62 220.47h2.7v2.6h-2.7zM250.84 479.39h2.7v2.6h-2.7zM250.84 456.04h2.7v2.6h-2.7zM250.84 445.43h2.7v2.6h-2.7zM250.84 322.34h2.7v2.6h-2.7zM250.84 298.99h2.7v2.6h-2.7zM250.84 294.75h2.7v2.6h-2.7zM250.84 282.02h2.7v2.6h-2.7zM250.84 279.89h2.7v2.6h-2.7zM250.84 277.77h2.7v2.6h-2.7zM250.84 275.65h2.7v2.6h-2.7zM250.84 269.28h2.7v2.6h-2.7zM250.84 258.67h2.7v2.6h-2.7zM250.84 256.55h2.7v2.6h-2.7zM250.84 245.94h2.7v2.6h-2.7zM250.84 243.82h2.7v2.6h-2.7zM250.84 235.33h2.7v2.6h-2.7zM250.84 228.96h2.7v2.6h-2.7zM250.84 224.72h2.7v2.6h-2.7zM250.84 220.47h2.7v2.6h-2.7zM250.84 199.25h2.7v2.6h-2.7zM253.06 515.47h2.7v2.6h-2.7zM253.06 494.24h2.7v2.6h-2.7zM253.06 483.63h2.7v2.6h-2.7zM253.06 466.65h2.7v2.6h-2.7zM253.06 456.04h2.7v2.6h-2.7zM253.06 428.45h2.7v2.6h-2.7zM253.06 318.09h2.7v2.6h-2.7zM253.06 305.36h2.7v2.6h-2.7zM253.06 290.51h2.7v2.6h-2.7zM253.06 288.38h2.7v2.6h-2.7zM253.06 275.65h2.7v2.6h-2.7zM253.06 273.53h2.7v2.6h-2.7zM253.06 265.04h2.7v2.6h-2.7zM253.06 262.92h2.7v2.6h-2.7zM253.06 258.67h2.7v2.6h-2.7zM253.06 256.55h2.7v2.6h-2.7zM253.06 252.30h2.7v2.6h-2.7zM253.06 250.18h2.7v2.6h-2.7zM253.06 237.45h2.7v2.6h-2.7zM253.06 235.33h2.7v2.6h-2.7zM253.06 233.20h2.7v2.6h-2.7zM253.06 228.96h2.7v2.6h-2.7zM253.06 205.61h2.7v2.6h-2.7zM255.29 517.59h2.7v2.6h-2.7zM255.29 462.41h2.7v2.6h-2.7zM255.29 356.30h2.7v2.6h-2.7zM255.29 313.85h2.7v2.6h-2.7zM255.29 292.63h2.7v2.6h-2.7zM255.29 290.51h2.7v2.6h-2.7zM255.29 275.65h2.7v2.6h-2.7zM255.29 269.28h2.7v2.6h-2.7zM255.29 267.16h2.7v2.6h-2.7zM255.29 260.79h2.7v2.6h-2.7zM255.29 252.30h2.7v2.6h-2.7zM255.29 245.94h2.7v2.6h-2.7zM255.29 235.33h2.7v2.6h-2.7zM255.29 228.96h2.7v2.6h-2.7zM255.29 214.10h2.7v2.6h-2.7zM257.51 466.65h2.7v2.6h-2.7zM257.51 432.70h2.7v2.6h-2.7zM257.51 428.45h2.7v2.6h-2.7zM257.51 345.68h2.7v2.6h-2.7zM257.51 322.34h2.7v2.6h-2.7zM257.51 313.85h2.7v2.6h-2.7zM257.51 307.48h2.7v2.6h-2.7zM257.51 296.87h2.7v2.6h-2.7zM257.51 294.75h2.7v2.6h-2.7zM257.51 279.89h2.7v2.6h-2.7zM257.51 267.16h2.7v2.6h-2.7zM257.51 252.30h2.7v2.6h-2.7zM257.51 248.06h2.7v2.6h-2.7zM257.51 243.82h2.7v2.6h-2.7zM257.51 239.57h2.7v2.6h-2.7zM259.73 502.73h2.7v2.6h-2.7zM259.73 494.24h2.7v2.6h-2.7zM259.73 490.00h2.7v2.6h-2.7zM259.73 456.04h2.7v2.6h-2.7zM259.73 449.68h2.7v2.6h-2.7zM259.73 307.48h2.7v2.6h-2.7zM259.73 296.87h2.7v2.6h-2.7zM259.73 292.63h2.7v2.6h-2.7zM259.73 273.53h2.7v2.6h-2.7zM259.73 269.28h2.7v2.6h-2.7zM259.73 262.92h2.7v2.6h-2.7zM259.73 258.67h2.7v2.6h-2.7zM259.73 243.82h2.7v2.6h-2.7zM259.73 241.69h2.7v2.6h-2.7zM259.73 237.45h2.7v2.6h-2.7zM259.73 222.59h2.7v2.6h-2.7zM261.95 498.49h2.7v2.6h-2.7zM261.95 487.88h2.7v2.6h-2.7zM261.95 468.78h2.7v2.6h-2.7zM261.95 290.51h2.7v2.6h-2.7zM261.95 286.26h2.7v2.6h-2.7zM261.95 256.55h2.7v2.6h-2.7zM261.95 250.18h2.7v2.6h-2.7zM261.95 248.06h2.7v2.6h-2.7zM264.18 487.88h2.7v2.6h-2.7zM264.18 453.92h2.7v2.6h-2.7zM264.18 449.68h2.7v2.6h-2.7zM264.18 294.75h2.7v2.6h-2.7zM264.18 292.63h2.7v2.6h-2.7zM264.18 284.14h2.7v2.6h-2.7zM264.18 282.02h2.7v2.6h-2.7zM264.18 275.65h2.7v2.6h-2.7zM266.40 517.59h2.7v2.6h-2.7zM266.40 494.24h2.7v2.6h-2.7zM266.40 439.06h2.7v2.6h-2.7zM266.40 313.85h2.7v2.6h-2.7zM266.40 269.28h2.7v2.6h-2.7zM266.40 267.16h2.7v2.6h-2.7zM266.40 265.04h2.7v2.6h-2.7zM266.40 256.55h2.7v2.6h-2.7zM268.62 458.16h2.7v2.6h-2.7zM268.62 405.11h2.7v2.6h-2.7zM268.62 252.30h2.7v2.6h-2.7zM268.62 211.98h2.7v2.6h-2.7zM270.85 462.41h2.7v2.6h-2.7zM270.85 443.31h2.7v2.6h-2.7zM270.85 430.57h2.7v2.6h-2.7zM270.85 428.45h2.7v2.6h-2.7zM270.85 405.11h2.7v2.6h-2.7zM270.85 309.61h2.7v2.6h-2.7zM270.85 286.26h2.7v2.6h-2.7zM270.85 275.65h2.7v2.6h-2.7zM270.85 267.16h2.7v2.6h-2.7zM270.85 218.35h2.7v2.6h-2.7zM273.07 305.36h2.7v2.6h-2.7zM273.07 267.16h2.7v2.6h-2.7zM273.07 262.92h2.7v2.6h-2.7zM273.07 256.55h2.7v2.6h-2.7zM273.07 233.20h2.7v2.6h-2.7zM275.29 475.14h2.7v2.6h-2.7zM275.29 468.78h2.7v2.6h-2.7zM275.29 279.89h2.7v2.6h-2.7zM277.51 509.10h2.7v2.6h-2.7zM277.51 496.37h2.7v2.6h-2.7zM277.51 470.90h2.7v2.6h-2.7zM277.51 286.26h2.7v2.6h-2.7zM277.51 239.57h2.7v2.6h-2.7zM281.96 464.53h2.7v2.6h-2.7zM281.96 462.41h2.7v2.6h-2.7zM281.96 303.24h2.7v2.6h-2.7zM281.96 296.87h2.7v2.6h-2.7zM281.96 218.35h2.7v2.6h-2.7zM281.96 195.00h2.7v2.6h-2.7zM284.18 468.78h2.7v2.6h-2.7zM284.18 305.36h2.7v2.6h-2.7zM288.63 562.16h2.7v2.6h-2.7zM308.63 462.41h2.7v2.6h-2.7zM313.08 517.59h2.7v2.6h-2.7zM313.08 481.51h2.7v2.6h-2.7zM317.52 411.47h2.7v2.6h-2.7zM319.74 443.31h2.7v2.6h-2.7zM321.97 496.37h2.7v2.6h-2.7zM321.97 453.92h2.7v2.6h-2.7zM324.19 494.24h2.7v2.6h-2.7zM324.19 492.12h2.7v2.6h-2.7zM324.19 434.82h2.7v2.6h-2.7zM324.19 426.33h2.7v2.6h-2.7zM326.41 464.53h2.7v2.6h-2.7zM326.41 411.47h2.7v2.6h-2.7zM328.63 456.04h2.7v2.6h-2.7zM328.63 449.68h2.7v2.6h-2.7zM328.63 447.55h2.7v2.6h-2.7zM330.86 490.00h2.7v2.6h-2.7zM330.86 441.19h2.7v2.6h-2.7zM333.08 479.39h2.7v2.6h-2.7zM333.08 468.78h2.7v2.6h-2.7zM333.08 466.65h2.7v2.6h-2.7zM333.08 462.41h2.7v2.6h-2.7zM333.08 409.35h2.7v2.6h-2.7zM335.30 498.49h2.7v2.6h-2.7zM335.30 492.12h2.7v2.6h-2.7zM335.30 477.26h2.7v2.6h-2.7zM335.30 468.78h2.7v2.6h-2.7zM335.30 464.53h2.7v2.6h-2.7zM335.30 432.70h2.7v2.6h-2.7zM335.30 417.84h2.7v2.6h-2.7zM335.30 409.35h2.7v2.6h-2.7zM337.52 464.53h2.7v2.6h-2.7zM337.52 451.80h2.7v2.6h-2.7zM337.52 447.55h2.7v2.6h-2.7zM337.52 443.31h2.7v2.6h-2.7zM337.52 409.35h2.7v2.6h-2.7zM339.75 555.79h2.7v2.6h-2.7zM339.75 492.12h2.7v2.6h-2.7zM339.75 490.00h2.7v2.6h-2.7zM339.75 464.53h2.7v2.6h-2.7zM339.75 462.41h2.7v2.6h-2.7zM339.75 453.92h2.7v2.6h-2.7zM339.75 451.80h2.7v2.6h-2.7zM339.75 441.19h2.7v2.6h-2.7zM339.75 436.94h2.7v2.6h-2.7zM339.75 434.82h2.7v2.6h-2.7zM339.75 415.72h2.7v2.6h-2.7zM341.97 504.85h2.7v2.6h-2.7zM341.97 492.12h2.7v2.6h-2.7zM341.97 481.51h2.7v2.6h-2.7zM341.97 475.14h2.7v2.6h-2.7zM341.97 466.65h2.7v2.6h-2.7zM341.97 453.92h2.7v2.6h-2.7zM341.97 434.82h2.7v2.6h-2.7zM341.97 430.57h2.7v2.6h-2.7zM344.19 515.47h2.7v2.6h-2.7zM344.19 483.63h2.7v2.6h-2.7zM344.19 473.02h2.7v2.6h-2.7zM344.19 468.78h2.7v2.6h-2.7zM344.19 460.29h2.7v2.6h-2.7zM344.19 449.68h2.7v2.6h-2.7zM344.19 439.06h2.7v2.6h-2.7zM344.19 436.94h2.7v2.6h-2.7zM344.19 424.21h2.7v2.6h-2.7zM344.19 419.96h2.7v2.6h-2.7zM344.19 415.72h2.7v2.6h-2.7zM344.19 413.60h2.7v2.6h-2.7zM346.42 519.71h2.7v2.6h-2.7zM346.42 487.88h2.7v2.6h-2.7zM346.42 481.51h2.7v2.6h-2.7zM346.42 475.14h2.7v2.6h-2.7zM346.42 468.78h2.7v2.6h-2.7zM346.42 456.04h2.7v2.6h-2.7zM346.42 449.68h2.7v2.6h-2.7zM346.42 445.43h2.7v2.6h-2.7zM346.42 443.31h2.7v2.6h-2.7zM348.64 545.18h2.7v2.6h-2.7zM348.64 517.59h2.7v2.6h-2.7zM348.64 509.10h2.7v2.6h-2.7zM348.64 483.63h2.7v2.6h-2.7zM348.64 477.26h2.7v2.6h-2.7zM348.64 475.14h2.7v2.6h-2.7zM348.64 470.90h2.7v2.6h-2.7zM348.64 460.29h2.7v2.6h-2.7zM348.64 456.04h2.7v2.6h-2.7zM348.64 453.92h2.7v2.6h-2.7zM348.64 443.31h2.7v2.6h-2.7zM348.64 439.06h2.7v2.6h-2.7zM348.64 436.94h2.7v2.6h-2.7zM348.64 434.82h2.7v2.6h-2.7zM348.64 419.96h2.7v2.6h-2.7zM348.64 396.62h2.7v2.6h-2.7zM350.86 543.06h2.7v2.6h-2.7zM350.86 530.32h2.7v2.6h-2.7zM350.86 513.34h2.7v2.6h-2.7zM350.86 504.85h2.7v2.6h-2.7zM350.86 502.73h2.7v2.6h-2.7zM350.86 492.12h2.7v2.6h-2.7zM350.86 481.51h2.7v2.6h-2.7zM350.86 479.39h2.7v2.6h-2.7zM350.86 475.14h2.7v2.6h-2.7zM350.86 470.90h2.7v2.6h-2.7zM350.86 466.65h2.7v2.6h-2.7zM350.86 449.68h2.7v2.6h-2.7zM350.86 447.55h2.7v2.6h-2.7zM350.86 445.43h2.7v2.6h-2.7zM350.86 441.19h2.7v2.6h-2.7zM350.86 432.70h2.7v2.6h-2.7zM350.86 430.57h2.7v2.6h-2.7zM350.86 424.21h2.7v2.6h-2.7zM350.86 422.09h2.7v2.6h-2.7zM350.86 411.47h2.7v2.6h-2.7zM353.08 538.81h2.7v2.6h-2.7zM353.08 528.20h2.7v2.6h-2.7zM353.08 526.08h2.7v2.6h-2.7zM353.08 490.00h2.7v2.6h-2.7zM353.08 485.75h2.7v2.6h-2.7zM353.08 477.26h2.7v2.6h-2.7zM353.08 473.02h2.7v2.6h-2.7zM353.08 466.65h2.7v2.6h-2.7zM353.08 464.53h2.7v2.6h-2.7zM353.08 458.16h2.7v2.6h-2.7zM353.08 456.04h2.7v2.6h-2.7zM353.08 447.55h2.7v2.6h-2.7zM353.08 441.19h2.7v2.6h-2.7zM353.08 436.94h2.7v2.6h-2.7zM355.31 553.67h2.7v2.6h-2.7zM355.31 551.54h2.7v2.6h-2.7zM355.31 513.34h2.7v2.6h-2.7zM355.31 504.85h2.7v2.6h-2.7zM355.31 498.49h2.7v2.6h-2.7zM355.31 496.37h2.7v2.6h-2.7zM355.31 485.75h2.7v2.6h-2.7zM355.31 477.26h2.7v2.6h-2.7zM355.31 456.04h2.7v2.6h-2.7zM355.31 451.80h2.7v2.6h-2.7zM355.31 449.68h2.7v2.6h-2.7zM355.31 445.43h2.7v2.6h-2.7zM355.31 439.06h2.7v2.6h-2.7zM355.31 434.82h2.7v2.6h-2.7zM355.31 419.96h2.7v2.6h-2.7zM355.31 411.47h2.7v2.6h-2.7zM357.53 545.18h2.7v2.6h-2.7zM357.53 515.47h2.7v2.6h-2.7zM357.53 506.98h2.7v2.6h-2.7zM357.53 500.61h2.7v2.6h-2.7zM357.53 496.37h2.7v2.6h-2.7zM357.53 494.24h2.7v2.6h-2.7zM357.53 485.75h2.7v2.6h-2.7zM357.53 481.51h2.7v2.6h-2.7zM357.53 468.78h2.7v2.6h-2.7zM357.53 462.41h2.7v2.6h-2.7zM357.53 460.29h2.7v2.6h-2.7zM357.53 456.04h2.7v2.6h-2.7zM357.53 451.80h2.7v2.6h-2.7zM357.53 449.68h2.7v2.6h-2.7zM357.53 445.43h2.7v2.6h-2.7zM357.53 436.94h2.7v2.6h-2.7zM357.53 434.82h2.7v2.6h-2.7zM357.53 428.45h2.7v2.6h-2.7zM357.53 426.33h2.7v2.6h-2.7zM357.53 415.72h2.7v2.6h-2.7zM357.53 411.47h2.7v2.6h-2.7zM357.53 402.99h2.7v2.6h-2.7zM359.75 557.91h2.7v2.6h-2.7zM359.75 534.57h2.7v2.6h-2.7zM359.75 513.34h2.7v2.6h-2.7zM359.75 500.61h2.7v2.6h-2.7zM359.75 490.00h2.7v2.6h-2.7zM359.75 473.02h2.7v2.6h-2.7zM359.75 470.90h2.7v2.6h-2.7zM359.75 468.78h2.7v2.6h-2.7zM359.75 462.41h2.7v2.6h-2.7zM359.75 456.04h2.7v2.6h-2.7zM359.75 453.92h2.7v2.6h-2.7zM359.75 451.80h2.7v2.6h-2.7zM359.75 447.55h2.7v2.6h-2.7zM359.75 445.43h2.7v2.6h-2.7zM359.75 443.31h2.7v2.6h-2.7zM359.75 439.06h2.7v2.6h-2.7zM359.75 436.94h2.7v2.6h-2.7zM359.75 432.70h2.7v2.6h-2.7zM359.75 424.21h2.7v2.6h-2.7zM359.75 422.09h2.7v2.6h-2.7zM359.75 413.60h2.7v2.6h-2.7zM359.75 400.86h2.7v2.6h-2.7zM361.97 555.79h2.7v2.6h-2.7zM361.97 538.81h2.7v2.6h-2.7zM361.97 523.95h2.7v2.6h-2.7zM361.97 521.83h2.7v2.6h-2.7zM361.97 519.71h2.7v2.6h-2.7zM361.97 515.47h2.7v2.6h-2.7zM361.97 511.22h2.7v2.6h-2.7zM361.97 485.75h2.7v2.6h-2.7zM361.97 479.39h2.7v2.6h-2.7zM361.97 475.14h2.7v2.6h-2.7zM361.97 473.02h2.7v2.6h-2.7zM361.97 466.65h2.7v2.6h-2.7zM361.97 464.53h2.7v2.6h-2.7zM361.97 451.80h2.7v2.6h-2.7zM361.97 445.43h2.7v2.6h-2.7zM361.97 443.31h2.7v2.6h-2.7zM361.97 439.06h2.7v2.6h-2.7zM361.97 436.94h2.7v2.6h-2.7zM361.97 434.82h2.7v2.6h-2.7zM361.97 432.70h2.7v2.6h-2.7zM361.97 428.45h2.7v2.6h-2.7zM361.97 424.21h2.7v2.6h-2.7zM361.97 422.09h2.7v2.6h-2.7zM361.97 419.96h2.7v2.6h-2.7zM361.97 417.84h2.7v2.6h-2.7zM361.97 415.72h2.7v2.6h-2.7zM361.97 409.35h2.7v2.6h-2.7zM364.20 545.18h2.7v2.6h-2.7zM364.20 540.93h2.7v2.6h-2.7zM364.20 521.83h2.7v2.6h-2.7zM364.20 515.47h2.7v2.6h-2.7zM364.20 498.49h2.7v2.6h-2.7zM364.20 496.37h2.7v2.6h-2.7zM364.20 477.26h2.7v2.6h-2.7zM364.20 473.02h2.7v2.6h-2.7zM364.20 470.90h2.7v2.6h-2.7zM364.20 466.65h2.7v2.6h-2.7zM364.20 464.53h2.7v2.6h-2.7zM364.20 462.41h2.7v2.6h-2.7zM364.20 460.29h2.7v2.6h-2.7zM364.20 458.16h2.7v2.6h-2.7zM364.20 456.04h2.7v2.6h-2.7zM364.20 453.92h2.7v2.6h-2.7zM364.20 451.80h2.7v2.6h-2.7zM364.20 445.43h2.7v2.6h-2.7zM364.20 439.06h2.7v2.6h-2.7zM364.20 434.82h2.7v2.6h-2.7zM364.20 432.70h2.7v2.6h-2.7zM364.20 430.57h2.7v2.6h-2.7zM364.20 424.21h2.7v2.6h-2.7zM364.20 422.09h2.7v2.6h-2.7zM364.20 415.72h2.7v2.6h-2.7zM364.20 411.47h2.7v2.6h-2.7zM364.20 409.35h2.7v2.6h-2.7zM364.20 402.99h2.7v2.6h-2.7zM366.42 562.16h2.7v2.6h-2.7zM366.42 549.42h2.7v2.6h-2.7zM366.42 547.30h2.7v2.6h-2.7zM366.42 515.47h2.7v2.6h-2.7zM366.42 513.34h2.7v2.6h-2.7zM366.42 509.10h2.7v2.6h-2.7zM366.42 506.98h2.7v2.6h-2.7zM366.42 502.73h2.7v2.6h-2.7zM366.42 498.49h2.7v2.6h-2.7zM366.42 496.37h2.7v2.6h-2.7zM366.42 487.88h2.7v2.6h-2.7zM366.42 481.51h2.7v2.6h-2.7zM366.42 479.39h2.7v2.6h-2.7zM366.42 477.26h2.7v2.6h-2.7zM366.42 473.02h2.7v2.6h-2.7zM366.42 468.78h2.7v2.6h-2.7zM366.42 466.65h2.7v2.6h-2.7zM366.42 462.41h2.7v2.6h-2.7zM366.42 458.16h2.7v2.6h-2.7zM366.42 453.92h2.7v2.6h-2.7zM366.42 449.68h2.7v2.6h-2.7zM366.42 447.55h2.7v2.6h-2.7zM366.42 445.43h2.7v2.6h-2.7zM366.42 443.31h2.7v2.6h-2.7zM366.42 441.19h2.7v2.6h-2.7zM366.42 436.94h2.7v2.6h-2.7zM366.42 430.57h2.7v2.6h-2.7zM366.42 428.45h2.7v2.6h-2.7zM366.42 424.21h2.7v2.6h-2.7zM366.42 415.72h2.7v2.6h-2.7zM366.42 411.47h2.7v2.6h-2.7zM366.42 402.99h2.7v2.6h-2.7zM368.64 557.91h2.7v2.6h-2.7zM368.64 551.54h2.7v2.6h-2.7zM368.64 547.30h2.7v2.6h-2.7zM368.64 545.18h2.7v2.6h-2.7zM368.64 540.93h2.7v2.6h-2.7zM368.64 530.32h2.7v2.6h-2.7zM368.64 526.08h2.7v2.6h-2.7zM368.64 523.95h2.7v2.6h-2.7zM368.64 509.10h2.7v2.6h-2.7zM368.64 500.61h2.7v2.6h-2.7zM368.64 490.00h2.7v2.6h-2.7zM368.64 487.88h2.7v2.6h-2.7zM368.64 483.63h2.7v2.6h-2.7zM368.64 481.51h2.7v2.6h-2.7zM368.64 479.39h2.7v2.6h-2.7zM368.64 477.26h2.7v2.6h-2.7zM368.64 473.02h2.7v2.6h-2.7zM368.64 470.90h2.7v2.6h-2.7zM368.64 464.53h2.7v2.6h-2.7zM368.64 462.41h2.7v2.6h-2.7zM368.64 460.29h2.7v2.6h-2.7zM368.64 458.16h2.7v2.6h-2.7zM368.64 456.04h2.7v2.6h-2.7zM368.64 451.80h2.7v2.6h-2.7zM368.64 449.68h2.7v2.6h-2.7zM368.64 447.55h2.7v2.6h-2.7zM368.64 445.43h2.7v2.6h-2.7zM368.64 443.31h2.7v2.6h-2.7zM368.64 441.19h2.7v2.6h-2.7zM368.64 439.06h2.7v2.6h-2.7zM368.64 436.94h2.7v2.6h-2.7zM368.64 434.82h2.7v2.6h-2.7zM368.64 426.33h2.7v2.6h-2.7zM368.64 419.96h2.7v2.6h-2.7zM368.64 417.84h2.7v2.6h-2.7zM368.64 413.60h2.7v2.6h-2.7zM368.64 407.23h2.7v2.6h-2.7zM370.86 532.44h2.7v2.6h-2.7zM370.86 523.95h2.7v2.6h-2.7zM370.86 521.83h2.7v2.6h-2.7zM370.86 509.10h2.7v2.6h-2.7zM370.86 498.49h2.7v2.6h-2.7zM370.86 490.00h2.7v2.6h-2.7zM370.86 487.88h2.7v2.6h-2.7zM370.86 485.75h2.7v2.6h-2.7zM370.86 481.51h2.7v2.6h-2.7zM370.86 479.39h2.7v2.6h-2.7zM370.86 477.26h2.7v2.6h-2.7zM370.86 475.14h2.7v2.6h-2.7zM370.86 473.02h2.7v2.6h-2.7zM370.86 468.78h2.7v2.6h-2.7zM370.86 466.65h2.7v2.6h-2.7zM370.86 462.41h2.7v2.6h-2.7zM370.86 460.29h2.7v2.6h-2.7zM370.86 458.16h2.7v2.6h-2.7zM370.86 456.04h2.7v2.6h-2.7zM370.86 453.92h2.7v2.6h-2.7zM370.86 451.80h2.7v2.6h-2.7zM370.86 449.68h2.7v2.6h-2.7zM370.86 447.55h2.7v2.6h-2.7zM370.86 445.43h2.7v2.6h-2.7zM370.86 443.31h2.7v2.6h-2.7zM370.86 441.19h2.7v2.6h-2.7zM370.86 439.06h2.7v2.6h-2.7zM370.86 436.94h2.7v2.6h-2.7zM370.86 432.70h2.7v2.6h-2.7zM370.86 430.57h2.7v2.6h-2.7zM370.86 426.33h2.7v2.6h-2.7zM370.86 422.09h2.7v2.6h-2.7zM370.86 417.84h2.7v2.6h-2.7zM370.86 415.72h2.7v2.6h-2.7zM370.86 413.60h2.7v2.6h-2.7zM370.86 409.35h2.7v2.6h-2.7zM370.86 402.99h2.7v2.6h-2.7zM373.09 545.18h2.7v2.6h-2.7zM373.09 540.93h2.7v2.6h-2.7zM373.09 530.32h2.7v2.6h-2.7zM373.09 526.08h2.7v2.6h-2.7zM373.09 523.95h2.7v2.6h-2.7zM373.09 511.22h2.7v2.6h-2.7zM373.09 509.10h2.7v2.6h-2.7zM373.09 500.61h2.7v2.6h-2.7zM373.09 498.49h2.7v2.6h-2.7zM373.09 494.24h2.7v2.6h-2.7zM373.09 492.12h2.7v2.6h-2.7zM373.09 490.00h2.7v2.6h-2.7zM373.09 487.88h2.7v2.6h-2.7zM373.09 485.75h2.7v2.6h-2.7zM373.09 481.51h2.7v2.6h-2.7zM373.09 479.39h2.7v2.6h-2.7zM373.09 477.26h2.7v2.6h-2.7zM373.09 475.14h2.7v2.6h-2.7zM373.09 473.02h2.7v2.6h-2.7zM373.09 470.90h2.7v2.6h-2.7zM373.09 468.78h2.7v2.6h-2.7zM373.09 466.65h2.7v2.6h-2.7zM373.09 464.53h2.7v2.6h-2.7zM373.09 462.41h2.7v2.6h-2.7zM373.09 460.29h2.7v2.6h-2.7zM373.09 458.16h2.7v2.6h-2.7zM373.09 456.04h2.7v2.6h-2.7zM373.09 453.92h2.7v2.6h-2.7zM373.09 451.80h2.7v2.6h-2.7zM373.09 449.68h2.7v2.6h-2.7zM373.09 447.55h2.7v2.6h-2.7zM373.09 445.43h2.7v2.6h-2.7zM373.09 443.31h2.7v2.6h-2.7zM373.09 441.19h2.7v2.6h-2.7zM373.09 439.06h2.7v2.6h-2.7zM373.09 436.94h2.7v2.6h-2.7zM373.09 434.82h2.7v2.6h-2.7zM373.09 428.45h2.7v2.6h-2.7zM373.09 426.33h2.7v2.6h-2.7zM373.09 417.84h2.7v2.6h-2.7zM373.09 415.72h2.7v2.6h-2.7zM373.09 413.60h2.7v2.6h-2.7zM373.09 402.99h2.7v2.6h-2.7zM375.31 557.91h2.7v2.6h-2.7zM375.31 553.67h2.7v2.6h-2.7zM375.31 549.42h2.7v2.6h-2.7zM375.31 545.18h2.7v2.6h-2.7zM375.31 538.81h2.7v2.6h-2.7zM375.31 536.69h2.7v2.6h-2.7zM375.31 534.57h2.7v2.6h-2.7zM375.31 526.08h2.7v2.6h-2.7zM375.31 519.71h2.7v2.6h-2.7zM375.31 515.47h2.7v2.6h-2.7zM375.31 504.85h2.7v2.6h-2.7zM375.31 498.49h2.7v2.6h-2.7zM375.31 490.00h2.7v2.6h-2.7zM375.31 487.88h2.7v2.6h-2.7zM375.31 483.63h2.7v2.6h-2.7zM375.31 481.51h2.7v2.6h-2.7zM375.31 479.39h2.7v2.6h-2.7zM375.31 473.02h2.7v2.6h-2.7zM375.31 468.78h2.7v2.6h-2.7zM375.31 466.65h2.7v2.6h-2.7zM375.31 464.53h2.7v2.6h-2.7zM375.31 460.29h2.7v2.6h-2.7zM375.31 458.16h2.7v2.6h-2.7zM375.31 456.04h2.7v2.6h-2.7zM375.31 453.92h2.7v2.6h-2.7zM375.31 451.80h2.7v2.6h-2.7zM375.31 449.68h2.7v2.6h-2.7zM375.31 447.55h2.7v2.6h-2.7zM375.31 445.43h2.7v2.6h-2.7zM375.31 443.31h2.7v2.6h-2.7zM375.31 441.19h2.7v2.6h-2.7zM375.31 439.06h2.7v2.6h-2.7zM375.31 436.94h2.7v2.6h-2.7zM375.31 434.82h2.7v2.6h-2.7zM375.31 432.70h2.7v2.6h-2.7zM375.31 428.45h2.7v2.6h-2.7zM375.31 426.33h2.7v2.6h-2.7zM375.31 424.21h2.7v2.6h-2.7zM375.31 419.96h2.7v2.6h-2.7zM375.31 413.60h2.7v2.6h-2.7zM377.53 551.54h2.7v2.6h-2.7zM377.53 543.06h2.7v2.6h-2.7zM377.53 538.81h2.7v2.6h-2.7zM377.53 536.69h2.7v2.6h-2.7zM377.53 521.83h2.7v2.6h-2.7zM377.53 519.71h2.7v2.6h-2.7zM377.53 515.47h2.7v2.6h-2.7zM377.53 509.10h2.7v2.6h-2.7zM377.53 494.24h2.7v2.6h-2.7zM377.53 492.12h2.7v2.6h-2.7zM377.53 490.00h2.7v2.6h-2.7zM377.53 487.88h2.7v2.6h-2.7zM377.53 485.75h2.7v2.6h-2.7zM377.53 481.51h2.7v2.6h-2.7zM377.53 479.39h2.7v2.6h-2.7zM377.53 477.26h2.7v2.6h-2.7zM377.53 475.14h2.7v2.6h-2.7zM377.53 473.02h2.7v2.6h-2.7zM377.53 470.90h2.7v2.6h-2.7zM377.53 468.78h2.7v2.6h-2.7zM377.53 466.65h2.7v2.6h-2.7zM377.53 464.53h2.7v2.6h-2.7zM377.53 460.29h2.7v2.6h-2.7zM377.53 458.16h2.7v2.6h-2.7zM377.53 456.04h2.7v2.6h-2.7zM377.53 453.92h2.7v2.6h-2.7zM377.53 451.80h2.7v2.6h-2.7zM377.53 449.68h2.7v2.6h-2.7zM377.53 447.55h2.7v2.6h-2.7zM377.53 445.43h2.7v2.6h-2.7zM377.53 443.31h2.7v2.6h-2.7zM377.53 441.19h2.7v2.6h-2.7zM377.53 439.06h2.7v2.6h-2.7zM377.53 436.94h2.7v2.6h-2.7zM377.53 434.82h2.7v2.6h-2.7zM377.53 432.70h2.7v2.6h-2.7zM377.53 430.57h2.7v2.6h-2.7zM377.53 428.45h2.7v2.6h-2.7zM377.53 426.33h2.7v2.6h-2.7zM377.53 424.21h2.7v2.6h-2.7zM377.53 422.09h2.7v2.6h-2.7zM377.53 417.84h2.7v2.6h-2.7zM377.53 415.72h2.7v2.6h-2.7zM377.53 411.47h2.7v2.6h-2.7zM377.53 409.35h2.7v2.6h-2.7zM377.53 405.11h2.7v2.6h-2.7zM377.53 402.99h2.7v2.6h-2.7zM379.76 560.03h2.7v2.6h-2.7zM379.76 543.06h2.7v2.6h-2.7zM379.76 538.81h2.7v2.6h-2.7zM379.76 528.20h2.7v2.6h-2.7zM379.76 521.83h2.7v2.6h-2.7zM379.76 517.59h2.7v2.6h-2.7zM379.76 515.47h2.7v2.6h-2.7zM379.76 513.34h2.7v2.6h-2.7zM379.76 506.98h2.7v2.6h-2.7zM379.76 500.61h2.7v2.6h-2.7zM379.76 496.37h2.7v2.6h-2.7zM379.76 494.24h2.7v2.6h-2.7zM379.76 492.12h2.7v2.6h-2.7zM379.76 490.00h2.7v2.6h-2.7zM379.76 487.88h2.7v2.6h-2.7zM379.76 483.63h2.7v2.6h-2.7zM379.76 481.51h2.7v2.6h-2.7zM379.76 479.39h2.7v2.6h-2.7zM379.76 475.14h2.7v2.6h-2.7zM379.76 470.90h2.7v2.6h-2.7zM379.76 468.78h2.7v2.6h-2.7zM379.76 466.65h2.7v2.6h-2.7zM379.76 464.53h2.7v2.6h-2.7zM379.76 462.41h2.7v2.6h-2.7zM379.76 460.29h2.7v2.6h-2.7zM379.76 458.16h2.7v2.6h-2.7zM379.76 456.04h2.7v2.6h-2.7zM379.76 453.92h2.7v2.6h-2.7zM379.76 451.80h2.7v2.6h-2.7zM379.76 447.55h2.7v2.6h-2.7zM379.76 445.43h2.7v2.6h-2.7zM379.76 443.31h2.7v2.6h-2.7zM379.76 441.19h2.7v2.6h-2.7zM379.76 436.94h2.7v2.6h-2.7zM379.76 434.82h2.7v2.6h-2.7zM379.76 432.70h2.7v2.6h-2.7zM379.76 430.57h2.7v2.6h-2.7zM379.76 428.45h2.7v2.6h-2.7zM379.76 426.33h2.7v2.6h-2.7zM379.76 424.21h2.7v2.6h-2.7zM379.76 422.09h2.7v2.6h-2.7zM379.76 419.96h2.7v2.6h-2.7zM379.76 417.84h2.7v2.6h-2.7zM379.76 415.72h2.7v2.6h-2.7zM379.76 413.60h2.7v2.6h-2.7zM379.76 409.35h2.7v2.6h-2.7zM379.76 398.74h2.7v2.6h-2.7zM381.98 551.54h2.7v2.6h-2.7zM381.98 549.42h2.7v2.6h-2.7zM381.98 543.06h2.7v2.6h-2.7zM381.98 538.81h2.7v2.6h-2.7zM381.98 536.69h2.7v2.6h-2.7zM381.98 534.57h2.7v2.6h-2.7zM381.98 530.32h2.7v2.6h-2.7zM381.98 528.20h2.7v2.6h-2.7zM381.98 526.08h2.7v2.6h-2.7zM381.98 521.83h2.7v2.6h-2.7zM381.98 515.47h2.7v2.6h-2.7zM381.98 504.85h2.7v2.6h-2.7zM381.98 498.49h2.7v2.6h-2.7zM381.98 496.37h2.7v2.6h-2.7zM381.98 494.24h2.7v2.6h-2.7zM381.98 492.12h2.7v2.6h-2.7zM381.98 490.00h2.7v2.6h-2.7zM381.98 487.88h2.7v2.6h-2.7zM381.98 485.75h2.7v2.6h-2.7zM381.98 483.63h2.7v2.6h-2.7zM381.98 481.51h2.7v2.6h-2.7zM381.98 479.39h2.7v2.6h-2.7zM381.98 477.26h2.7v2.6h-2.7zM381.98 475.14h2.7v2.6h-2.7zM381.98 473.02h2.7v2.6h-2.7zM381.98 468.78h2.7v2.6h-2.7zM381.98 466.65h2.7v2.6h-2.7zM381.98 464.53h2.7v2.6h-2.7zM381.98 462.41h2.7v2.6h-2.7zM381.98 460.29h2.7v2.6h-2.7zM381.98 458.16h2.7v2.6h-2.7zM381.98 456.04h2.7v2.6h-2.7zM381.98 453.92h2.7v2.6h-2.7zM381.98 451.80h2.7v2.6h-2.7zM381.98 449.68h2.7v2.6h-2.7zM381.98 447.55h2.7v2.6h-2.7zM381.98 441.19h2.7v2.6h-2.7zM381.98 439.06h2.7v2.6h-2.7zM381.98 434.82h2.7v2.6h-2.7zM381.98 432.70h2.7v2.6h-2.7zM381.98 428.45h2.7v2.6h-2.7zM381.98 426.33h2.7v2.6h-2.7zM381.98 424.21h2.7v2.6h-2.7zM381.98 422.09h2.7v2.6h-2.7zM381.98 419.96h2.7v2.6h-2.7zM381.98 415.72h2.7v2.6h-2.7zM381.98 411.47h2.7v2.6h-2.7zM384.20 560.03h2.7v2.6h-2.7zM384.20 557.91h2.7v2.6h-2.7zM384.20 555.79h2.7v2.6h-2.7zM384.20 553.67h2.7v2.6h-2.7zM384.20 543.06h2.7v2.6h-2.7zM384.20 536.69h2.7v2.6h-2.7zM384.20 528.20h2.7v2.6h-2.7zM384.20 523.95h2.7v2.6h-2.7zM384.20 515.47h2.7v2.6h-2.7zM384.20 511.22h2.7v2.6h-2.7zM384.20 502.73h2.7v2.6h-2.7zM384.20 500.61h2.7v2.6h-2.7zM384.20 498.49h2.7v2.6h-2.7zM384.20 496.37h2.7v2.6h-2.7zM384.20 494.24h2.7v2.6h-2.7zM384.20 490.00h2.7v2.6h-2.7zM384.20 481.51h2.7v2.6h-2.7zM384.20 479.39h2.7v2.6h-2.7zM384.20 475.14h2.7v2.6h-2.7zM384.20 473.02h2.7v2.6h-2.7zM384.20 470.90h2.7v2.6h-2.7zM384.20 468.78h2.7v2.6h-2.7zM384.20 466.65h2.7v2.6h-2.7zM384.20 464.53h2.7v2.6h-2.7zM384.20 462.41h2.7v2.6h-2.7zM384.20 460.29h2.7v2.6h-2.7zM384.20 458.16h2.7v2.6h-2.7zM384.20 456.04h2.7v2.6h-2.7zM384.20 453.92h2.7v2.6h-2.7zM384.20 451.80h2.7v2.6h-2.7zM384.20 449.68h2.7v2.6h-2.7zM384.20 447.55h2.7v2.6h-2.7zM384.20 445.43h2.7v2.6h-2.7zM384.20 443.31h2.7v2.6h-2.7zM384.20 441.19h2.7v2.6h-2.7zM384.20 439.06h2.7v2.6h-2.7zM384.20 436.94h2.7v2.6h-2.7zM384.20 434.82h2.7v2.6h-2.7zM384.20 432.70h2.7v2.6h-2.7zM384.20 430.57h2.7v2.6h-2.7zM384.20 428.45h2.7v2.6h-2.7zM384.20 426.33h2.7v2.6h-2.7zM384.20 424.21h2.7v2.6h-2.7zM384.20 422.09h2.7v2.6h-2.7zM384.20 419.96h2.7v2.6h-2.7zM384.20 417.84h2.7v2.6h-2.7zM384.20 415.72h2.7v2.6h-2.7zM384.20 411.47h2.7v2.6h-2.7zM386.42 557.91h2.7v2.6h-2.7zM386.42 551.54h2.7v2.6h-2.7zM386.42 543.06h2.7v2.6h-2.7zM386.42 523.95h2.7v2.6h-2.7zM386.42 521.83h2.7v2.6h-2.7zM386.42 517.59h2.7v2.6h-2.7zM386.42 515.47h2.7v2.6h-2.7zM386.42 511.22h2.7v2.6h-2.7zM386.42 506.98h2.7v2.6h-2.7zM386.42 500.61h2.7v2.6h-2.7zM386.42 498.49h2.7v2.6h-2.7zM386.42 492.12h2.7v2.6h-2.7zM386.42 490.00h2.7v2.6h-2.7zM386.42 487.88h2.7v2.6h-2.7zM386.42 485.75h2.7v2.6h-2.7zM386.42 483.63h2.7v2.6h-2.7zM386.42 481.51h2.7v2.6h-2.7zM386.42 479.39h2.7v2.6h-2.7zM386.42 477.26h2.7v2.6h-2.7zM386.42 475.14h2.7v2.6h-2.7zM386.42 473.02h2.7v2.6h-2.7zM386.42 470.90h2.7v2.6h-2.7zM386.42 468.78h2.7v2.6h-2.7zM386.42 466.65h2.7v2.6h-2.7zM386.42 464.53h2.7v2.6h-2.7zM386.42 462.41h2.7v2.6h-2.7zM386.42 460.29h2.7v2.6h-2.7zM386.42 458.16h2.7v2.6h-2.7zM386.42 456.04h2.7v2.6h-2.7zM386.42 453.92h2.7v2.6h-2.7zM386.42 451.80h2.7v2.6h-2.7zM386.42 449.68h2.7v2.6h-2.7zM386.42 447.55h2.7v2.6h-2.7zM386.42 445.43h2.7v2.6h-2.7zM386.42 443.31h2.7v2.6h-2.7zM386.42 441.19h2.7v2.6h-2.7zM386.42 439.06h2.7v2.6h-2.7zM386.42 436.94h2.7v2.6h-2.7zM386.42 434.82h2.7v2.6h-2.7zM386.42 432.70h2.7v2.6h-2.7zM386.42 430.57h2.7v2.6h-2.7zM386.42 428.45h2.7v2.6h-2.7zM386.42 426.33h2.7v2.6h-2.7zM386.42 424.21h2.7v2.6h-2.7zM386.42 422.09h2.7v2.6h-2.7zM386.42 419.96h2.7v2.6h-2.7zM386.42 417.84h2.7v2.6h-2.7zM386.42 415.72h2.7v2.6h-2.7zM386.42 413.60h2.7v2.6h-2.7zM386.42 411.47h2.7v2.6h-2.7zM386.42 409.35h2.7v2.6h-2.7zM386.42 402.99h2.7v2.6h-2.7zM388.65 560.03h2.7v2.6h-2.7zM388.65 557.91h2.7v2.6h-2.7zM388.65 553.67h2.7v2.6h-2.7zM388.65 551.54h2.7v2.6h-2.7zM388.65 545.18h2.7v2.6h-2.7zM388.65 543.06h2.7v2.6h-2.7zM388.65 538.81h2.7v2.6h-2.7zM388.65 532.44h2.7v2.6h-2.7zM388.65 528.20h2.7v2.6h-2.7zM388.65 526.08h2.7v2.6h-2.7zM388.65 523.95h2.7v2.6h-2.7zM388.65 521.83h2.7v2.6h-2.7zM388.65 506.98h2.7v2.6h-2.7zM388.65 504.85h2.7v2.6h-2.7zM388.65 500.61h2.7v2.6h-2.7zM388.65 498.49h2.7v2.6h-2.7zM388.65 496.37h2.7v2.6h-2.7zM388.65 492.12h2.7v2.6h-2.7zM388.65 490.00h2.7v2.6h-2.7zM388.65 487.88h2.7v2.6h-2.7zM388.65 485.75h2.7v2.6h-2.7zM388.65 483.63h2.7v2.6h-2.7zM388.65 481.51h2.7v2.6h-2.7zM388.65 479.39h2.7v2.6h-2.7zM388.65 477.26h2.7v2.6h-2.7zM388.65 475.14h2.7v2.6h-2.7zM388.65 473.02h2.7v2.6h-2.7zM388.65 470.90h2.7v2.6h-2.7zM388.65 468.78h2.7v2.6h-2.7zM388.65 466.65h2.7v2.6h-2.7zM388.65 464.53h2.7v2.6h-2.7zM388.65 460.29h2.7v2.6h-2.7zM388.65 458.16h2.7v2.6h-2.7zM388.65 456.04h2.7v2.6h-2.7zM388.65 453.92h2.7v2.6h-2.7zM388.65 451.80h2.7v2.6h-2.7zM388.65 449.68h2.7v2.6h-2.7zM388.65 445.43h2.7v2.6h-2.7zM388.65 443.31h2.7v2.6h-2.7zM388.65 441.19h2.7v2.6h-2.7zM388.65 439.06h2.7v2.6h-2.7zM388.65 434.82h2.7v2.6h-2.7zM388.65 432.70h2.7v2.6h-2.7zM388.65 430.57h2.7v2.6h-2.7zM388.65 428.45h2.7v2.6h-2.7zM388.65 426.33h2.7v2.6h-2.7zM388.65 422.09h2.7v2.6h-2.7zM388.65 419.96h2.7v2.6h-2.7zM388.65 417.84h2.7v2.6h-2.7zM388.65 415.72h2.7v2.6h-2.7zM388.65 413.60h2.7v2.6h-2.7zM388.65 409.35h2.7v2.6h-2.7zM388.65 407.23h2.7v2.6h-2.7zM388.65 405.11h2.7v2.6h-2.7zM390.87 560.03h2.7v2.6h-2.7zM390.87 549.42h2.7v2.6h-2.7zM390.87 545.18h2.7v2.6h-2.7zM390.87 538.81h2.7v2.6h-2.7zM390.87 536.69h2.7v2.6h-2.7zM390.87 534.57h2.7v2.6h-2.7zM390.87 523.95h2.7v2.6h-2.7zM390.87 521.83h2.7v2.6h-2.7zM390.87 515.47h2.7v2.6h-2.7zM390.87 513.34h2.7v2.6h-2.7zM390.87 511.22h2.7v2.6h-2.7zM390.87 509.10h2.7v2.6h-2.7zM390.87 504.85h2.7v2.6h-2.7zM390.87 496.37h2.7v2.6h-2.7zM390.87 494.24h2.7v2.6h-2.7zM390.87 490.00h2.7v2.6h-2.7zM390.87 487.88h2.7v2.6h-2.7zM390.87 485.75h2.7v2.6h-2.7zM390.87 479.39h2.7v2.6h-2.7zM390.87 477.26h2.7v2.6h-2.7zM390.87 475.14h2.7v2.6h-2.7zM390.87 473.02h2.7v2.6h-2.7zM390.87 470.90h2.7v2.6h-2.7zM390.87 468.78h2.7v2.6h-2.7zM390.87 464.53h2.7v2.6h-2.7zM390.87 462.41h2.7v2.6h-2.7zM390.87 460.29h2.7v2.6h-2.7zM390.87 458.16h2.7v2.6h-2.7zM390.87 456.04h2.7v2.6h-2.7zM390.87 453.92h2.7v2.6h-2.7zM390.87 451.80h2.7v2.6h-2.7zM390.87 449.68h2.7v2.6h-2.7zM390.87 447.55h2.7v2.6h-2.7zM390.87 445.43h2.7v2.6h-2.7zM390.87 443.31h2.7v2.6h-2.7zM390.87 441.19h2.7v2.6h-2.7zM390.87 439.06h2.7v2.6h-2.7zM390.87 436.94h2.7v2.6h-2.7zM390.87 434.82h2.7v2.6h-2.7zM390.87 432.70h2.7v2.6h-2.7zM390.87 430.57h2.7v2.6h-2.7zM390.87 428.45h2.7v2.6h-2.7zM390.87 426.33h2.7v2.6h-2.7zM390.87 424.21h2.7v2.6h-2.7zM390.87 422.09h2.7v2.6h-2.7zM390.87 417.84h2.7v2.6h-2.7zM390.87 415.72h2.7v2.6h-2.7zM390.87 413.60h2.7v2.6h-2.7zM390.87 411.47h2.7v2.6h-2.7zM390.87 409.35h2.7v2.6h-2.7zM390.87 407.23h2.7v2.6h-2.7zM390.87 396.62h2.7v2.6h-2.7zM393.09 560.03h2.7v2.6h-2.7zM393.09 545.18h2.7v2.6h-2.7zM393.09 521.83h2.7v2.6h-2.7zM393.09 519.71h2.7v2.6h-2.7zM393.09 517.59h2.7v2.6h-2.7zM393.09 509.10h2.7v2.6h-2.7zM393.09 504.85h2.7v2.6h-2.7zM393.09 498.49h2.7v2.6h-2.7zM393.09 496.37h2.7v2.6h-2.7zM393.09 494.24h2.7v2.6h-2.7zM393.09 492.12h2.7v2.6h-2.7zM393.09 487.88h2.7v2.6h-2.7zM393.09 485.75h2.7v2.6h-2.7zM393.09 481.51h2.7v2.6h-2.7zM393.09 477.26h2.7v2.6h-2.7zM393.09 473.02h2.7v2.6h-2.7zM393.09 470.90h2.7v2.6h-2.7zM393.09 468.78h2.7v2.6h-2.7zM393.09 466.65h2.7v2.6h-2.7zM393.09 458.16h2.7v2.6h-2.7zM393.09 456.04h2.7v2.6h-2.7zM393.09 453.92h2.7v2.6h-2.7zM393.09 451.80h2.7v2.6h-2.7zM393.09 449.68h2.7v2.6h-2.7zM393.09 447.55h2.7v2.6h-2.7zM393.09 445.43h2.7v2.6h-2.7zM393.09 443.31h2.7v2.6h-2.7zM393.09 441.19h2.7v2.6h-2.7zM393.09 436.94h2.7v2.6h-2.7zM393.09 434.82h2.7v2.6h-2.7zM393.09 428.45h2.7v2.6h-2.7zM393.09 426.33h2.7v2.6h-2.7zM393.09 424.21h2.7v2.6h-2.7zM393.09 422.09h2.7v2.6h-2.7zM393.09 415.72h2.7v2.6h-2.7zM393.09 413.60h2.7v2.6h-2.7zM393.09 411.47h2.7v2.6h-2.7zM393.09 400.86h2.7v2.6h-2.7zM393.09 396.62h2.7v2.6h-2.7zM395.31 538.81h2.7v2.6h-2.7zM395.31 532.44h2.7v2.6h-2.7zM395.31 523.95h2.7v2.6h-2.7zM395.31 515.47h2.7v2.6h-2.7zM395.31 513.34h2.7v2.6h-2.7zM395.31 509.10h2.7v2.6h-2.7zM395.31 506.98h2.7v2.6h-2.7zM395.31 504.85h2.7v2.6h-2.7zM395.31 502.73h2.7v2.6h-2.7zM395.31 494.24h2.7v2.6h-2.7zM395.31 492.12h2.7v2.6h-2.7zM395.31 487.88h2.7v2.6h-2.7zM395.31 485.75h2.7v2.6h-2.7zM395.31 477.26h2.7v2.6h-2.7zM395.31 475.14h2.7v2.6h-2.7zM395.31 473.02h2.7v2.6h-2.7zM395.31 470.90h2.7v2.6h-2.7zM395.31 468.78h2.7v2.6h-2.7zM395.31 466.65h2.7v2.6h-2.7zM395.31 464.53h2.7v2.6h-2.7zM395.31 462.41h2.7v2.6h-2.7zM395.31 460.29h2.7v2.6h-2.7zM395.31 458.16h2.7v2.6h-2.7zM395.31 456.04h2.7v2.6h-2.7zM395.31 453.92h2.7v2.6h-2.7zM395.31 449.68h2.7v2.6h-2.7zM395.31 447.55h2.7v2.6h-2.7zM395.31 445.43h2.7v2.6h-2.7zM395.31 441.19h2.7v2.6h-2.7zM395.31 439.06h2.7v2.6h-2.7zM395.31 434.82h2.7v2.6h-2.7zM395.31 432.70h2.7v2.6h-2.7zM395.31 430.57h2.7v2.6h-2.7zM395.31 428.45h2.7v2.6h-2.7zM395.31 426.33h2.7v2.6h-2.7zM395.31 424.21h2.7v2.6h-2.7zM395.31 422.09h2.7v2.6h-2.7zM395.31 419.96h2.7v2.6h-2.7zM395.31 417.84h2.7v2.6h-2.7zM395.31 415.72h2.7v2.6h-2.7zM395.31 413.60h2.7v2.6h-2.7zM395.31 409.35h2.7v2.6h-2.7zM395.31 407.23h2.7v2.6h-2.7zM395.31 405.11h2.7v2.6h-2.7zM395.31 400.86h2.7v2.6h-2.7zM395.31 394.50h2.7v2.6h-2.7zM397.54 549.42h2.7v2.6h-2.7zM397.54 545.18h2.7v2.6h-2.7zM397.54 540.93h2.7v2.6h-2.7zM397.54 538.81h2.7v2.6h-2.7zM397.54 536.69h2.7v2.6h-2.7zM397.54 532.44h2.7v2.6h-2.7zM397.54 523.95h2.7v2.6h-2.7zM397.54 519.71h2.7v2.6h-2.7zM397.54 513.34h2.7v2.6h-2.7zM397.54 509.10h2.7v2.6h-2.7zM397.54 498.49h2.7v2.6h-2.7zM397.54 494.24h2.7v2.6h-2.7zM397.54 492.12h2.7v2.6h-2.7zM397.54 487.88h2.7v2.6h-2.7zM397.54 485.75h2.7v2.6h-2.7zM397.54 483.63h2.7v2.6h-2.7zM397.54 479.39h2.7v2.6h-2.7zM397.54 473.02h2.7v2.6h-2.7zM397.54 470.90h2.7v2.6h-2.7zM397.54 468.78h2.7v2.6h-2.7zM397.54 466.65h2.7v2.6h-2.7zM397.54 462.41h2.7v2.6h-2.7zM397.54 460.29h2.7v2.6h-2.7zM397.54 458.16h2.7v2.6h-2.7zM397.54 456.04h2.7v2.6h-2.7zM397.54 453.92h2.7v2.6h-2.7zM397.54 451.80h2.7v2.6h-2.7zM397.54 449.68h2.7v2.6h-2.7zM397.54 447.55h2.7v2.6h-2.7zM397.54 445.43h2.7v2.6h-2.7zM397.54 443.31h2.7v2.6h-2.7zM397.54 441.19h2.7v2.6h-2.7zM397.54 439.06h2.7v2.6h-2.7zM397.54 436.94h2.7v2.6h-2.7zM397.54 434.82h2.7v2.6h-2.7zM397.54 432.70h2.7v2.6h-2.7zM397.54 430.57h2.7v2.6h-2.7zM397.54 428.45h2.7v2.6h-2.7zM397.54 426.33h2.7v2.6h-2.7zM397.54 424.21h2.7v2.6h-2.7zM397.54 422.09h2.7v2.6h-2.7zM397.54 419.96h2.7v2.6h-2.7zM397.54 417.84h2.7v2.6h-2.7zM397.54 413.60h2.7v2.6h-2.7zM397.54 411.47h2.7v2.6h-2.7zM397.54 409.35h2.7v2.6h-2.7zM397.54 402.99h2.7v2.6h-2.7zM399.76 564.28h2.7v2.6h-2.7zM399.76 553.67h2.7v2.6h-2.7zM399.76 551.54h2.7v2.6h-2.7zM399.76 528.20h2.7v2.6h-2.7zM399.76 511.22h2.7v2.6h-2.7zM399.76 504.85h2.7v2.6h-2.7zM399.76 502.73h2.7v2.6h-2.7zM399.76 500.61h2.7v2.6h-2.7zM399.76 498.49h2.7v2.6h-2.7zM399.76 492.12h2.7v2.6h-2.7zM399.76 490.00h2.7v2.6h-2.7zM399.76 487.88h2.7v2.6h-2.7zM399.76 485.75h2.7v2.6h-2.7zM399.76 479.39h2.7v2.6h-2.7zM399.76 477.26h2.7v2.6h-2.7zM399.76 475.14h2.7v2.6h-2.7zM399.76 473.02h2.7v2.6h-2.7zM399.76 470.90h2.7v2.6h-2.7zM399.76 468.78h2.7v2.6h-2.7zM399.76 466.65h2.7v2.6h-2.7zM399.76 464.53h2.7v2.6h-2.7zM399.76 462.41h2.7v2.6h-2.7zM399.76 458.16h2.7v2.6h-2.7zM399.76 456.04h2.7v2.6h-2.7zM399.76 451.80h2.7v2.6h-2.7zM399.76 449.68h2.7v2.6h-2.7zM399.76 447.55h2.7v2.6h-2.7zM399.76 445.43h2.7v2.6h-2.7zM399.76 443.31h2.7v2.6h-2.7zM399.76 441.19h2.7v2.6h-2.7zM399.76 436.94h2.7v2.6h-2.7zM399.76 432.70h2.7v2.6h-2.7zM399.76 430.57h2.7v2.6h-2.7zM399.76 428.45h2.7v2.6h-2.7zM399.76 426.33h2.7v2.6h-2.7zM399.76 424.21h2.7v2.6h-2.7zM399.76 422.09h2.7v2.6h-2.7zM399.76 419.96h2.7v2.6h-2.7zM399.76 417.84h2.7v2.6h-2.7zM399.76 415.72h2.7v2.6h-2.7zM399.76 413.60h2.7v2.6h-2.7zM399.76 411.47h2.7v2.6h-2.7zM399.76 409.35h2.7v2.6h-2.7zM399.76 407.23h2.7v2.6h-2.7zM399.76 400.86h2.7v2.6h-2.7zM401.98 549.42h2.7v2.6h-2.7zM401.98 547.30h2.7v2.6h-2.7zM401.98 538.81h2.7v2.6h-2.7zM401.98 515.47h2.7v2.6h-2.7zM401.98 511.22h2.7v2.6h-2.7zM401.98 504.85h2.7v2.6h-2.7zM401.98 496.37h2.7v2.6h-2.7zM401.98 494.24h2.7v2.6h-2.7zM401.98 492.12h2.7v2.6h-2.7zM401.98 487.88h2.7v2.6h-2.7zM401.98 483.63h2.7v2.6h-2.7zM401.98 481.51h2.7v2.6h-2.7zM401.98 477.26h2.7v2.6h-2.7zM401.98 475.14h2.7v2.6h-2.7zM401.98 470.90h2.7v2.6h-2.7zM401.98 464.53h2.7v2.6h-2.7zM401.98 462.41h2.7v2.6h-2.7zM401.98 460.29h2.7v2.6h-2.7zM401.98 456.04h2.7v2.6h-2.7zM401.98 453.92h2.7v2.6h-2.7zM401.98 451.80h2.7v2.6h-2.7zM401.98 449.68h2.7v2.6h-2.7zM401.98 447.55h2.7v2.6h-2.7zM401.98 445.43h2.7v2.6h-2.7zM401.98 443.31h2.7v2.6h-2.7zM401.98 441.19h2.7v2.6h-2.7zM401.98 439.06h2.7v2.6h-2.7zM401.98 436.94h2.7v2.6h-2.7zM401.98 432.70h2.7v2.6h-2.7zM401.98 430.57h2.7v2.6h-2.7zM401.98 428.45h2.7v2.6h-2.7zM401.98 426.33h2.7v2.6h-2.7zM401.98 424.21h2.7v2.6h-2.7zM401.98 415.72h2.7v2.6h-2.7zM401.98 407.23h2.7v2.6h-2.7zM401.98 405.11h2.7v2.6h-2.7zM404.20 560.03h2.7v2.6h-2.7zM404.20 540.93h2.7v2.6h-2.7zM404.20 536.69h2.7v2.6h-2.7zM404.20 526.08h2.7v2.6h-2.7zM404.20 521.83h2.7v2.6h-2.7zM404.20 519.71h2.7v2.6h-2.7zM404.20 517.59h2.7v2.6h-2.7zM404.20 509.10h2.7v2.6h-2.7zM404.20 504.85h2.7v2.6h-2.7zM404.20 502.73h2.7v2.6h-2.7zM404.20 492.12h2.7v2.6h-2.7zM404.20 483.63h2.7v2.6h-2.7zM404.20 479.39h2.7v2.6h-2.7zM404.20 473.02h2.7v2.6h-2.7zM404.20 470.90h2.7v2.6h-2.7zM404.20 468.78h2.7v2.6h-2.7zM404.20 466.65h2.7v2.6h-2.7zM404.20 464.53h2.7v2.6h-2.7zM404.20 462.41h2.7v2.6h-2.7zM404.20 460.29h2.7v2.6h-2.7zM404.20 456.04h2.7v2.6h-2.7zM404.20 453.92h2.7v2.6h-2.7zM404.20 451.80h2.7v2.6h-2.7zM404.20 449.68h2.7v2.6h-2.7zM404.20 447.55h2.7v2.6h-2.7zM404.20 443.31h2.7v2.6h-2.7zM404.20 441.19h2.7v2.6h-2.7zM404.20 439.06h2.7v2.6h-2.7zM404.20 436.94h2.7v2.6h-2.7zM404.20 432.70h2.7v2.6h-2.7zM404.20 430.57h2.7v2.6h-2.7zM404.20 428.45h2.7v2.6h-2.7zM404.20 426.33h2.7v2.6h-2.7zM404.20 424.21h2.7v2.6h-2.7zM404.20 422.09h2.7v2.6h-2.7zM404.20 417.84h2.7v2.6h-2.7zM404.20 415.72h2.7v2.6h-2.7zM404.20 413.60h2.7v2.6h-2.7zM404.20 411.47h2.7v2.6h-2.7zM404.20 396.62h2.7v2.6h-2.7zM406.43 551.54h2.7v2.6h-2.7zM406.43 538.81h2.7v2.6h-2.7zM406.43 523.95h2.7v2.6h-2.7zM406.43 511.22h2.7v2.6h-2.7zM406.43 506.98h2.7v2.6h-2.7zM406.43 502.73h2.7v2.6h-2.7zM406.43 500.61h2.7v2.6h-2.7zM406.43 492.12h2.7v2.6h-2.7zM406.43 490.00h2.7v2.6h-2.7zM406.43 487.88h2.7v2.6h-2.7zM406.43 485.75h2.7v2.6h-2.7zM406.43 483.63h2.7v2.6h-2.7zM406.43 481.51h2.7v2.6h-2.7zM406.43 479.39h2.7v2.6h-2.7zM406.43 473.02h2.7v2.6h-2.7zM406.43 470.90h2.7v2.6h-2.7zM406.43 468.78h2.7v2.6h-2.7zM406.43 462.41h2.7v2.6h-2.7zM406.43 460.29h2.7v2.6h-2.7zM406.43 458.16h2.7v2.6h-2.7zM406.43 456.04h2.7v2.6h-2.7zM406.43 451.80h2.7v2.6h-2.7zM406.43 449.68h2.7v2.6h-2.7zM406.43 447.55h2.7v2.6h-2.7zM406.43 443.31h2.7v2.6h-2.7zM406.43 441.19h2.7v2.6h-2.7zM406.43 436.94h2.7v2.6h-2.7zM406.43 434.82h2.7v2.6h-2.7zM406.43 430.57h2.7v2.6h-2.7zM406.43 426.33h2.7v2.6h-2.7zM406.43 424.21h2.7v2.6h-2.7zM406.43 422.09h2.7v2.6h-2.7zM406.43 419.96h2.7v2.6h-2.7zM406.43 415.72h2.7v2.6h-2.7zM406.43 407.23h2.7v2.6h-2.7zM406.43 394.50h2.7v2.6h-2.7zM408.65 564.28h2.7v2.6h-2.7zM408.65 536.69h2.7v2.6h-2.7zM408.65 511.22h2.7v2.6h-2.7zM408.65 509.10h2.7v2.6h-2.7zM408.65 506.98h2.7v2.6h-2.7zM408.65 494.24h2.7v2.6h-2.7zM408.65 487.88h2.7v2.6h-2.7zM408.65 479.39h2.7v2.6h-2.7zM408.65 468.78h2.7v2.6h-2.7zM408.65 466.65h2.7v2.6h-2.7zM408.65 464.53h2.7v2.6h-2.7zM408.65 460.29h2.7v2.6h-2.7zM408.65 458.16h2.7v2.6h-2.7zM408.65 453.92h2.7v2.6h-2.7zM408.65 451.80h2.7v2.6h-2.7zM408.65 449.68h2.7v2.6h-2.7zM408.65 447.55h2.7v2.6h-2.7zM408.65 445.43h2.7v2.6h-2.7zM408.65 443.31h2.7v2.6h-2.7zM408.65 441.19h2.7v2.6h-2.7zM408.65 439.06h2.7v2.6h-2.7zM408.65 436.94h2.7v2.6h-2.7zM408.65 434.82h2.7v2.6h-2.7zM408.65 432.70h2.7v2.6h-2.7zM408.65 430.57h2.7v2.6h-2.7zM408.65 428.45h2.7v2.6h-2.7zM408.65 426.33h2.7v2.6h-2.7zM408.65 424.21h2.7v2.6h-2.7zM408.65 417.84h2.7v2.6h-2.7zM408.65 411.47h2.7v2.6h-2.7zM408.65 409.35h2.7v2.6h-2.7zM410.87 560.03h2.7v2.6h-2.7zM410.87 553.67h2.7v2.6h-2.7zM410.87 521.83h2.7v2.6h-2.7zM410.87 519.71h2.7v2.6h-2.7zM410.87 494.24h2.7v2.6h-2.7zM410.87 487.88h2.7v2.6h-2.7zM410.87 477.26h2.7v2.6h-2.7zM410.87 475.14h2.7v2.6h-2.7zM410.87 473.02h2.7v2.6h-2.7zM410.87 470.90h2.7v2.6h-2.7zM410.87 468.78h2.7v2.6h-2.7zM410.87 466.65h2.7v2.6h-2.7zM410.87 464.53h2.7v2.6h-2.7zM410.87 462.41h2.7v2.6h-2.7zM410.87 460.29h2.7v2.6h-2.7zM410.87 456.04h2.7v2.6h-2.7zM410.87 453.92h2.7v2.6h-2.7zM410.87 451.80h2.7v2.6h-2.7zM410.87 449.68h2.7v2.6h-2.7zM410.87 447.55h2.7v2.6h-2.7zM410.87 445.43h2.7v2.6h-2.7zM410.87 443.31h2.7v2.6h-2.7zM410.87 441.19h2.7v2.6h-2.7zM410.87 439.06h2.7v2.6h-2.7zM410.87 436.94h2.7v2.6h-2.7zM410.87 434.82h2.7v2.6h-2.7zM410.87 432.70h2.7v2.6h-2.7zM410.87 430.57h2.7v2.6h-2.7zM410.87 428.45h2.7v2.6h-2.7zM410.87 426.33h2.7v2.6h-2.7zM410.87 417.84h2.7v2.6h-2.7zM410.87 411.47h2.7v2.6h-2.7zM413.10 528.20h2.7v2.6h-2.7zM413.10 515.47h2.7v2.6h-2.7zM413.10 513.34h2.7v2.6h-2.7zM413.10 496.37h2.7v2.6h-2.7zM413.10 494.24h2.7v2.6h-2.7zM413.10 492.12h2.7v2.6h-2.7zM413.10 483.63h2.7v2.6h-2.7zM413.10 479.39h2.7v2.6h-2.7zM413.10 477.26h2.7v2.6h-2.7zM413.10 475.14h2.7v2.6h-2.7zM413.10 470.90h2.7v2.6h-2.7zM413.10 462.41h2.7v2.6h-2.7zM413.10 460.29h2.7v2.6h-2.7zM413.10 456.04h2.7v2.6h-2.7zM413.10 451.80h2.7v2.6h-2.7zM413.10 449.68h2.7v2.6h-2.7zM413.10 447.55h2.7v2.6h-2.7zM413.10 445.43h2.7v2.6h-2.7zM413.10 443.31h2.7v2.6h-2.7zM413.10 439.06h2.7v2.6h-2.7zM413.10 434.82h2.7v2.6h-2.7zM413.10 432.70h2.7v2.6h-2.7zM413.10 428.45h2.7v2.6h-2.7zM413.10 426.33h2.7v2.6h-2.7zM413.10 424.21h2.7v2.6h-2.7zM413.10 422.09h2.7v2.6h-2.7zM413.10 419.96h2.7v2.6h-2.7zM413.10 417.84h2.7v2.6h-2.7zM413.10 415.72h2.7v2.6h-2.7zM413.10 398.74h2.7v2.6h-2.7zM415.32 551.54h2.7v2.6h-2.7zM415.32 545.18h2.7v2.6h-2.7zM415.32 523.95h2.7v2.6h-2.7zM415.32 513.34h2.7v2.6h-2.7zM415.32 485.75h2.7v2.6h-2.7zM415.32 483.63h2.7v2.6h-2.7zM415.32 470.90h2.7v2.6h-2.7zM415.32 468.78h2.7v2.6h-2.7zM415.32 464.53h2.7v2.6h-2.7zM415.32 462.41h2.7v2.6h-2.7zM415.32 456.04h2.7v2.6h-2.7zM415.32 451.80h2.7v2.6h-2.7zM415.32 447.55h2.7v2.6h-2.7zM415.32 445.43h2.7v2.6h-2.7zM415.32 434.82h2.7v2.6h-2.7zM415.32 432.70h2.7v2.6h-2.7zM415.32 430.57h2.7v2.6h-2.7zM415.32 428.45h2.7v2.6h-2.7zM415.32 415.72h2.7v2.6h-2.7zM415.32 413.60h2.7v2.6h-2.7zM415.32 402.99h2.7v2.6h-2.7zM417.54 553.67h2.7v2.6h-2.7zM417.54 549.42h2.7v2.6h-2.7zM417.54 547.30h2.7v2.6h-2.7zM417.54 540.93h2.7v2.6h-2.7zM417.54 528.20h2.7v2.6h-2.7zM417.54 494.24h2.7v2.6h-2.7zM417.54 487.88h2.7v2.6h-2.7zM417.54 479.39h2.7v2.6h-2.7zM417.54 477.26h2.7v2.6h-2.7zM417.54 473.02h2.7v2.6h-2.7zM417.54 470.90h2.7v2.6h-2.7zM417.54 464.53h2.7v2.6h-2.7zM417.54 460.29h2.7v2.6h-2.7zM417.54 456.04h2.7v2.6h-2.7zM417.54 451.80h2.7v2.6h-2.7zM417.54 449.68h2.7v2.6h-2.7zM417.54 445.43h2.7v2.6h-2.7zM417.54 443.31h2.7v2.6h-2.7zM417.54 441.19h2.7v2.6h-2.7zM417.54 439.06h2.7v2.6h-2.7zM417.54 436.94h2.7v2.6h-2.7zM417.54 434.82h2.7v2.6h-2.7zM417.54 432.70h2.7v2.6h-2.7zM417.54 430.57h2.7v2.6h-2.7zM417.54 411.47h2.7v2.6h-2.7zM417.54 409.35h2.7v2.6h-2.7zM417.54 405.11h2.7v2.6h-2.7zM419.76 562.16h2.7v2.6h-2.7zM419.76 468.78h2.7v2.6h-2.7zM419.76 466.65h2.7v2.6h-2.7zM419.76 462.41h2.7v2.6h-2.7zM419.76 456.04h2.7v2.6h-2.7zM419.76 451.80h2.7v2.6h-2.7zM419.76 449.68h2.7v2.6h-2.7zM419.76 445.43h2.7v2.6h-2.7zM419.76 443.31h2.7v2.6h-2.7zM419.76 441.19h2.7v2.6h-2.7zM419.76 439.06h2.7v2.6h-2.7zM419.76 436.94h2.7v2.6h-2.7zM419.76 434.82h2.7v2.6h-2.7zM419.76 432.70h2.7v2.6h-2.7zM419.76 430.57h2.7v2.6h-2.7zM419.76 428.45h2.7v2.6h-2.7zM419.76 419.96h2.7v2.6h-2.7zM419.76 417.84h2.7v2.6h-2.7zM419.76 415.72h2.7v2.6h-2.7zM421.99 504.85h2.7v2.6h-2.7zM421.99 475.14h2.7v2.6h-2.7zM421.99 473.02h2.7v2.6h-2.7zM421.99 470.90h2.7v2.6h-2.7zM421.99 464.53h2.7v2.6h-2.7zM421.99 460.29h2.7v2.6h-2.7zM421.99 456.04h2.7v2.6h-2.7zM421.99 451.80h2.7v2.6h-2.7zM421.99 447.55h2.7v2.6h-2.7zM421.99 439.06h2.7v2.6h-2.7zM421.99 434.82h2.7v2.6h-2.7zM421.99 432.70h2.7v2.6h-2.7zM421.99 428.45h2.7v2.6h-2.7zM421.99 422.09h2.7v2.6h-2.7zM424.21 536.69h2.7v2.6h-2.7zM424.21 515.47h2.7v2.6h-2.7zM424.21 490.00h2.7v2.6h-2.7zM424.21 475.14h2.7v2.6h-2.7zM424.21 451.80h2.7v2.6h-2.7zM424.21 447.55h2.7v2.6h-2.7zM424.21 445.43h2.7v2.6h-2.7zM424.21 441.19h2.7v2.6h-2.7zM424.21 439.06h2.7v2.6h-2.7zM424.21 436.94h2.7v2.6h-2.7zM424.21 432.70h2.7v2.6h-2.7zM424.21 428.45h2.7v2.6h-2.7zM424.21 426.33h2.7v2.6h-2.7zM424.21 424.21h2.7v2.6h-2.7zM424.21 422.09h2.7v2.6h-2.7zM424.21 417.84h2.7v2.6h-2.7zM424.21 398.74h2.7v2.6h-2.7zM426.43 509.10h2.7v2.6h-2.7zM426.43 485.75h2.7v2.6h-2.7zM426.43 483.63h2.7v2.6h-2.7zM426.43 481.51h2.7v2.6h-2.7zM426.43 479.39h2.7v2.6h-2.7zM426.43 468.78h2.7v2.6h-2.7zM426.43 466.65h2.7v2.6h-2.7zM426.43 464.53h2.7v2.6h-2.7zM426.43 434.82h2.7v2.6h-2.7zM426.43 432.70h2.7v2.6h-2.7zM426.43 430.57h2.7v2.6h-2.7zM426.43 419.96h2.7v2.6h-2.7zM426.43 417.84h2.7v2.6h-2.7zM426.43 413.60h2.7v2.6h-2.7zM426.43 405.11h2.7v2.6h-2.7zM428.65 487.88h2.7v2.6h-2.7zM428.65 485.75h2.7v2.6h-2.7zM428.65 481.51h2.7v2.6h-2.7zM428.65 468.78h2.7v2.6h-2.7zM428.65 466.65h2.7v2.6h-2.7zM428.65 456.04h2.7v2.6h-2.7zM428.65 449.68h2.7v2.6h-2.7zM428.65 447.55h2.7v2.6h-2.7zM428.65 439.06h2.7v2.6h-2.7zM428.65 436.94h2.7v2.6h-2.7zM428.65 415.72h2.7v2.6h-2.7zM430.88 504.85h2.7v2.6h-2.7zM430.88 481.51h2.7v2.6h-2.7zM430.88 479.39h2.7v2.6h-2.7zM430.88 466.65h2.7v2.6h-2.7zM430.88 462.41h2.7v2.6h-2.7zM430.88 456.04h2.7v2.6h-2.7zM430.88 451.80h2.7v2.6h-2.7zM430.88 441.19h2.7v2.6h-2.7zM430.88 430.57h2.7v2.6h-2.7zM430.88 428.45h2.7v2.6h-2.7zM430.88 426.33h2.7v2.6h-2.7zM433.10 487.88h2.7v2.6h-2.7zM433.10 475.14h2.7v2.6h-2.7zM433.10 466.65h2.7v2.6h-2.7zM433.10 464.53h2.7v2.6h-2.7zM433.10 458.16h2.7v2.6h-2.7zM433.10 456.04h2.7v2.6h-2.7zM433.10 451.80h2.7v2.6h-2.7zM433.10 449.68h2.7v2.6h-2.7zM433.10 445.43h2.7v2.6h-2.7zM433.10 443.31h2.7v2.6h-2.7zM433.10 436.94h2.7v2.6h-2.7zM433.10 432.70h2.7v2.6h-2.7zM433.10 430.57h2.7v2.6h-2.7zM433.10 413.60h2.7v2.6h-2.7zM435.32 475.14h2.7v2.6h-2.7zM435.32 470.90h2.7v2.6h-2.7zM435.32 462.41h2.7v2.6h-2.7zM435.32 460.29h2.7v2.6h-2.7zM435.32 456.04h2.7v2.6h-2.7zM435.32 453.92h2.7v2.6h-2.7zM435.32 436.94h2.7v2.6h-2.7zM435.32 430.57h2.7v2.6h-2.7zM435.32 426.33h2.7v2.6h-2.7zM435.32 422.09h2.7v2.6h-2.7zM435.32 409.35h2.7v2.6h-2.7zM435.32 402.99h2.7v2.6h-2.7zM437.54 485.75h2.7v2.6h-2.7zM437.54 464.53h2.7v2.6h-2.7zM437.54 453.92h2.7v2.6h-2.7zM437.54 439.06h2.7v2.6h-2.7zM437.54 417.84h2.7v2.6h-2.7zM437.54 415.72h2.7v2.6h-2.7zM439.77 458.16h2.7v2.6h-2.7zM439.77 453.92h2.7v2.6h-2.7zM439.77 447.55h2.7v2.6h-2.7zM439.77 443.31h2.7v2.6h-2.7zM439.77 441.19h2.7v2.6h-2.7zM439.77 436.94h2.7v2.6h-2.7zM439.77 424.21h2.7v2.6h-2.7zM441.99 475.14h2.7v2.6h-2.7zM441.99 470.90h2.7v2.6h-2.7zM441.99 468.78h2.7v2.6h-2.7zM441.99 443.31h2.7v2.6h-2.7zM444.21 485.75h2.7v2.6h-2.7zM444.21 462.41h2.7v2.6h-2.7zM444.21 439.06h2.7v2.6h-2.7zM446.44 462.41h2.7v2.6h-2.7zM446.44 432.70h2.7v2.6h-2.7zM448.66 458.16h2.7v2.6h-2.7zM448.66 436.94h2.7v2.6h-2.7zM448.66 419.96h2.7v2.6h-2.7zM448.66 405.11h2.7v2.6h-2.7zM450.88 417.84h2.7v2.6h-2.7zM450.88 405.11h2.7v2.6h-2.7zM453.10 483.63h2.7v2.6h-2.7zM453.10 473.02h2.7v2.6h-2.7zM453.10 458.16h2.7v2.6h-2.7zM453.10 449.68h2.7v2.6h-2.7zM453.10 443.31h2.7v2.6h-2.7zM453.10 439.06h2.7v2.6h-2.7zM455.33 513.34h2.7v2.6h-2.7zM455.33 487.88h2.7v2.6h-2.7zM455.33 434.82h2.7v2.6h-2.7zM455.33 432.70h2.7v2.6h-2.7zM457.55 458.16h2.7v2.6h-2.7zM457.55 436.94h2.7v2.6h-2.7zM457.55 405.11h2.7v2.6h-2.7zM459.77 481.51h2.7v2.6h-2.7zM461.99 424.21h2.7v2.6h-2.7zM461.99 419.96h2.7v2.6h-2.7zM464.22 466.65h2.7v2.6h-2.7zM464.22 447.55h2.7v2.6h-2.7zM464.22 443.31h2.7v2.6h-2.7zM479.77 481.51h2.7v2.6h-2.7zM486.44 466.65h2.7v2.6h-2.7zM449.65 102.80h2.7v2.6h-2.7zM378.05 171.40h2.7v2.6h-2.7zM389.65 169.30h2.7v2.6h-2.7zM353.65 261.50h2.7v2.6h-2.7zM367.05 267.60h2.7v2.6h-2.7zM342.65 284.80h2.7v2.6h-2.7zM373.65 280.70h2.7v2.6h-2.7zM400.65 276.20h2.7v2.6h-2.7zM333.45 304.30h2.7v2.6h-2.7zM389.45 299.80h2.7v2.6h-2.7zM407.25 329.80h2.7v2.6h-2.7zM413.85 340.30h2.7v2.6h-2.7zM405.05 346.70h2.7v2.6h-2.7zM400.65 351.10h2.7v2.6h-2.7zM395.85 353.10h2.7v2.6h-2.7zM407.25 353.10h2.7v2.6h-2.7zM348.95 366.10h2.7v2.6h-2.7zM422.65 363.80h2.7v2.6h-2.7zM418.35 376.70h2.7v2.6h-2.7zM427.45 381.10h2.7v2.6h-2.7zM386.95 381.10h2.7v2.6h-2.7zM436.35 385.30h2.7v2.6h-2.7zM416.15 385.30h2.7v2.6h-2.7zM422.65 387.50h2.7v2.6h-2.7zM409.45 387.50h2.7v2.6h-2.7zM400.65 387.50h2.7v2.6h-2.7zM389.45 385.30h2.7v2.6h-2.7zM386.95 387.50h2.7v2.6h-2.7zM378.15 389.70h2.7v2.6h-2.7zM440.65 389.80h2.7v2.6h-2.7zM315.45 385.30h2.7v2.6h-2.7zM302.85 402.50h2.7v2.6h-2.7zM305.45 405.20h2.7v2.6h-2.7zM290.95 410.90h2.7v2.6h-2.7zM302.85 413.10h2.7v2.6h-2.7zM284.35 417.50h2.7v2.6h-2.7zM305.45 446.00h2.7v2.6h-2.7zM307.55 446.80h2.7v2.6h-2.7zM295.75 451.30h2.7v2.6h-2.7zM304.95 464.40h2.7v2.6h-2.7zM306.85 472.30h2.7v2.6h-2.7zM302.85 481.00h2.7v2.6h-2.7zM307.35 504.80h2.7v2.6h-2.7zM223.65 378.80h2.7v2.6h-2.7zM247.45 383.50h2.7v2.6h-2.7zM128.05 272.10h2.7v2.6h-2.7zM136.95 286.90h2.7v2.6h-2.7zM248.55 177.80h2.7v2.6h-2.7zM210.65 182.00h2.7v2.6h-2.7zM248.65 192.80h2.7v2.6h-2.7zM206.15 194.80h2.7v2.6h-2.7zM221.95 194.80h2.7v2.6h-2.7zM148.15 216.50h2.7v2.6h-2.7zM465.65 401.80h2.7v2.6h-2.7zM485.25 403.80h2.7v2.6h-2.7zM476.15 412.80h2.7v2.6h-2.7zM498.65 425.80h2.7v2.6h-2.7zM463.15 508.80h2.7v2.6h-2.7z"/>
<g fill="#000">
<rect x="124" y="23" width="3" height="546"/>
<rect x="693" y="22.5" width="3" height="546.5"/>
<rect x="124" y="23" width="572" height="2.6"/>
<rect x="124" y="566.3" width="572" height="2.7"/>
<rect x="311.3" y="23" width="3" height="545"/>
<rect x="124" y="391.2" width="572" height="2.6"/>
<rect x="164.9" y="567" width="2.8" height="8.5"/><rect x="189.9" y="567" width="2.8" height="8.5"/><rect x="208.5" y="567" width="2.8" height="8.5"/><rect x="221.0" y="567" width="2.8" height="8.5"/><rect x="233.1" y="567" width="2.8" height="8.5"/><rect x="243.1" y="567" width="2.8" height="8.5"/><rect x="252.2" y="567" width="2.8" height="8.5"/><rect x="258.6" y="567" width="2.8" height="8.5"/><rect x="308.8" y="567" width="2.8" height="8.5"/><rect x="333.7" y="567" width="2.8" height="8.5"/><rect x="349.0" y="567" width="2.8" height="8.5"/><rect x="365.2" y="567" width="2.8" height="8.5"/><rect x="374.1" y="567" width="2.8" height="8.5"/><rect x="383.6" y="567" width="2.8" height="8.5"/><rect x="393.2" y="567" width="2.8" height="8.5"/><rect x="398.9" y="567" width="2.8" height="8.5"/><rect x="449.0" y="567" width="2.8" height="8.5"/><rect x="473.7" y="567" width="2.8" height="8.5"/><rect x="493.0" y="567" width="2.8" height="8.5"/><rect x="505.2" y="567" width="2.8" height="8.5"/><rect x="518.0" y="567" width="2.8" height="8.5"/><rect x="526.9" y="567" width="2.8" height="8.5"/><rect x="536.8" y="567" width="2.8" height="8.5"/><rect x="542.7" y="567" width="2.8" height="8.5"/><rect x="593.1" y="567" width="2.8" height="8.5"/><rect x="618.0" y="567" width="2.8" height="8.5"/><rect x="633.1" y="567" width="2.8" height="8.5"/><rect x="649.0" y="567" width="2.8" height="8.5"/><rect x="658.0" y="567" width="2.8" height="8.5"/><rect x="671.0" y="567" width="2.8" height="8.5"/><rect x="676.9" y="567" width="2.8" height="8.5"/><rect x="683.2" y="567" width="2.8" height="8.5"/><rect x="118.2" y="29.1" width="7" height="2.7"/><rect x="118.2" y="38.3" width="7" height="2.7"/><rect x="118.2" y="44.9" width="7" height="2.7"/><rect x="118.2" y="54.2" width="7" height="2.7"/><rect x="118.2" y="66.4" width="7" height="2.7"/><rect x="118.2" y="79.4" width="7" height="2.7"/><rect x="118.2" y="94.7" width="7" height="2.7"/><rect x="118.2" y="119.9" width="7" height="2.7"/><rect x="118.2" y="166.2" width="7" height="2.7"/><rect x="118.2" y="173.0" width="7" height="2.7"/><rect x="118.2" y="182.2" width="7" height="2.7"/><rect x="118.2" y="191.5" width="7" height="2.7"/><rect x="118.2" y="201.2" width="7" height="2.7"/><rect x="118.2" y="213.2" width="7" height="2.7"/><rect x="118.2" y="232.1" width="7" height="2.7"/><rect x="118.2" y="254.1" width="7" height="2.7"/><rect x="118.2" y="301.0" width="7" height="2.7"/><rect x="118.2" y="310.0" width="7" height="2.7"/><rect x="118.2" y="316.1" width="7" height="2.7"/><rect x="118.2" y="325.8" width="7" height="2.7"/><rect x="118.2" y="338.0" width="7" height="2.7"/><rect x="118.2" y="351.2" width="7" height="2.7"/><rect x="118.2" y="366.3" width="7" height="2.7"/><rect x="118.2" y="391.1" width="7" height="2.7"/><rect x="118.2" y="438.1" width="7" height="2.7"/><rect x="118.2" y="444.5" width="7" height="2.7"/><rect x="118.2" y="454.0" width="7" height="2.7"/><rect x="118.2" y="463.2" width="7" height="2.7"/><rect x="118.2" y="472.8" width="7" height="2.7"/><rect x="118.2" y="485.0" width="7" height="2.7"/><rect x="118.2" y="504.0" width="7" height="2.7"/><rect x="118.2" y="525.9" width="7" height="2.7"/><rect x="265.0" y="567" width="3" height="17.6"/><rect x="408.4" y="567" width="3" height="17.6"/><rect x="548.9" y="567" width="3" height="17.6"/><rect x="693.0" y="567" width="3" height="17.6"/><rect x="108.5" y="22.9" width="17" height="2.8"/><rect x="108.5" y="160.1" width="17" height="2.8"/><rect x="108.5" y="294.6" width="17" height="2.8"/><rect x="108.5" y="432.1" width="17" height="2.8"/>
</g>
<text x="246.7" y="615.8" font-size="27.3" textLength="28.5" lengthAdjust="spacingAndGlyphs">10</text><text x="275.7" y="604.7" font-size="17.4" textLength="8.5" lengthAdjust="spacingAndGlyphs">0</text><text x="65.2" y="442.5" font-size="27.3" textLength="28.5" lengthAdjust="spacingAndGlyphs">10</text><text x="93.4" y="431.5" font-size="17.4" textLength="8.5" lengthAdjust="spacingAndGlyphs">0</text><text x="390.1" y="615.8" font-size="27.3" textLength="28.5" lengthAdjust="spacingAndGlyphs">10</text><text x="419.1" y="604.7" font-size="17.4" textLength="8.5" lengthAdjust="spacingAndGlyphs">1</text><text x="65.2" y="305.0" font-size="27.3" textLength="28.5" lengthAdjust="spacingAndGlyphs">10</text><text x="93.4" y="294.0" font-size="17.4" textLength="8.5" lengthAdjust="spacingAndGlyphs">1</text><text x="530.6" y="615.8" font-size="27.3" textLength="28.5" lengthAdjust="spacingAndGlyphs">10</text><text x="559.6" y="604.7" font-size="17.4" textLength="8.5" lengthAdjust="spacingAndGlyphs">2</text><text x="65.2" y="170.5" font-size="27.3" textLength="28.5" lengthAdjust="spacingAndGlyphs">10</text><text x="93.4" y="159.5" font-size="17.4" textLength="8.5" lengthAdjust="spacingAndGlyphs">2</text><text x="674.7" y="615.8" font-size="27.3" textLength="28.5" lengthAdjust="spacingAndGlyphs">10</text><text x="703.7" y="604.7" font-size="17.4" textLength="8.5" lengthAdjust="spacingAndGlyphs">3</text><text x="65.2" y="33.3" font-size="27.3" textLength="28.5" lengthAdjust="spacingAndGlyphs">10</text><text x="93.4" y="22.3" font-size="17.4" textLength="8.5" lengthAdjust="spacingAndGlyphs">3</text>
<text x="341" y="653" font-size="30.5" textLength="137" lengthAdjust="spacingAndGlyphs">CD19-FITC</text>
<text transform="translate(46.6 347.8) rotate(-90)" font-size="30.5" textLength="110" lengthAdjust="spacingAndGlyphs">CD3ε-PE</text>
<g font-size="17"><text y="701.8"><tspan x="15.1" textLength="56.4" lengthAdjust="spacingAndGlyphs">BALB/c</tspan> <tspan x="78.3" textLength="55.8" lengthAdjust="spacingAndGlyphs">mouse</tspan> <tspan x="138.9" textLength="97.0" lengthAdjust="spacingAndGlyphs">splenocytes</tspan> <tspan x="240.7" textLength="40.2" lengthAdjust="spacingAndGlyphs">were</tspan> <tspan x="286.3" textLength="62.8" lengthAdjust="spacingAndGlyphs">stained</tspan> <tspan x="353.9" textLength="36.8" lengthAdjust="spacingAndGlyphs">with</tspan> <tspan x="397.1" textLength="69.8" lengthAdjust="spacingAndGlyphs">Hamster</tspan> <tspan x="472.4" textLength="97.7" lengthAdjust="spacingAndGlyphs">Anti-Mouse</tspan> <tspan x="575.6" textLength="67.0" lengthAdjust="spacingAndGlyphs">CD3ε-PE</tspan></text><text y="721.7"><tspan x="15.1" textLength="26.4" lengthAdjust="spacingAndGlyphs">(SB</tspan> <tspan x="45.7" textLength="32.4" lengthAdjust="spacingAndGlyphs">Cat.</tspan> <tspan x="84.6" textLength="27.8" lengthAdjust="spacingAndGlyphs">No.</tspan> <tspan x="118.3" textLength="75.6" lengthAdjust="spacingAndGlyphs">1530-09)</tspan> <tspan x="198.1" textLength="29.2" lengthAdjust="spacingAndGlyphs">and</tspan> <tspan x="232.4" textLength="25.1" lengthAdjust="spacingAndGlyphs">Rat</tspan> <tspan x="263.4" textLength="97.3" lengthAdjust="spacingAndGlyphs">Anti-Mouse</tspan> <tspan x="366.6" textLength="85.6" lengthAdjust="spacingAndGlyphs">CD19-FITC</tspan> <tspan x="457.4" textLength="25.7" lengthAdjust="spacingAndGlyphs">(SB</tspan> <tspan x="488.1" textLength="32.0" lengthAdjust="spacingAndGlyphs">Cat.</tspan> <tspan x="526.3" textLength="28.8" lengthAdjust="spacingAndGlyphs">No.</tspan></text><text y="741.2"><tspan x="15.7" textLength="75.8" lengthAdjust="spacingAndGlyphs">1575-02).</tspan></text></g>
</svg>
</body></html>
